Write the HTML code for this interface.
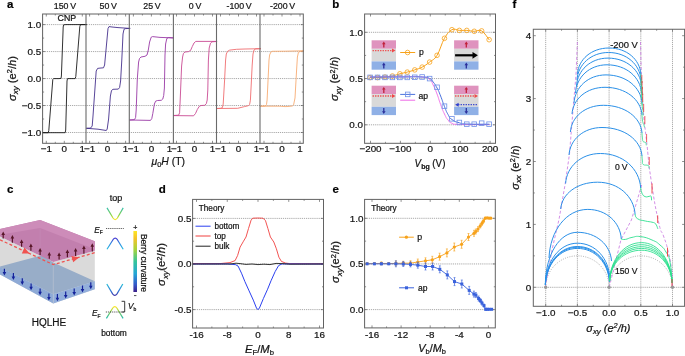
<!DOCTYPE html>
<html><head><meta charset="utf-8"><style>
html,body{margin:0;padding:0;background:#fff;}
body{width:685px;height:356px;overflow:hidden;}
svg{display:block;font-family:"Liberation Sans", sans-serif;filter:blur(0.3px);}
text{stroke:#141414;stroke-width:0.22px;}
</style></head><body>
<svg width="685" height="356" viewBox="0 0 685 356">
<rect width="685" height="356" fill="#fff"/>
<text x="6.90" y="7.70" font-size="11.5" text-anchor="start" font-weight="bold" fill="#000" >a</text>
<text x="332.30" y="7.70" font-size="11.5" text-anchor="start" font-weight="bold" fill="#000" >b</text>
<text x="6.90" y="193.00" font-size="11.5" text-anchor="start" font-weight="bold" fill="#000" >c</text>
<text x="158.80" y="192.70" font-size="11.5" text-anchor="start" font-weight="bold" fill="#000" >d</text>
<text x="332.60" y="192.70" font-size="11.5" text-anchor="start" font-weight="bold" fill="#000" >e</text>
<text x="512.60" y="7.70" font-size="11.5" text-anchor="start" font-weight="bold" fill="#000" >f</text>
<line x1="42.60" y1="24.60" x2="303.30" y2="24.60" stroke="#8e8e8e" stroke-width="0.75" stroke-dasharray="1.2 0.9"/>
<line x1="42.60" y1="51.57" x2="303.30" y2="51.57" stroke="#8e8e8e" stroke-width="0.75" stroke-dasharray="1.2 0.9"/>
<line x1="42.60" y1="78.55" x2="303.30" y2="78.55" stroke="#8e8e8e" stroke-width="0.75" stroke-dasharray="1.2 0.9"/>
<line x1="42.60" y1="105.53" x2="303.30" y2="105.53" stroke="#8e8e8e" stroke-width="0.75" stroke-dasharray="1.2 0.9"/>
<line x1="42.60" y1="132.50" x2="303.30" y2="132.50" stroke="#8e8e8e" stroke-width="0.75" stroke-dasharray="1.2 0.9"/>
<line x1="42.60" y1="24.60" x2="45.10" y2="24.60" stroke="#626262" stroke-width="0.7" />
<line x1="303.30" y1="24.60" x2="300.80" y2="24.60" stroke="#626262" stroke-width="0.7" />
<line x1="42.60" y1="38.09" x2="44.10" y2="38.09" stroke="#626262" stroke-width="0.7" />
<line x1="303.30" y1="38.09" x2="301.80" y2="38.09" stroke="#626262" stroke-width="0.7" />
<line x1="42.60" y1="51.57" x2="45.10" y2="51.57" stroke="#626262" stroke-width="0.7" />
<line x1="303.30" y1="51.57" x2="300.80" y2="51.57" stroke="#626262" stroke-width="0.7" />
<line x1="42.60" y1="65.06" x2="44.10" y2="65.06" stroke="#626262" stroke-width="0.7" />
<line x1="303.30" y1="65.06" x2="301.80" y2="65.06" stroke="#626262" stroke-width="0.7" />
<line x1="42.60" y1="78.55" x2="45.10" y2="78.55" stroke="#626262" stroke-width="0.7" />
<line x1="303.30" y1="78.55" x2="300.80" y2="78.55" stroke="#626262" stroke-width="0.7" />
<line x1="42.60" y1="92.04" x2="44.10" y2="92.04" stroke="#626262" stroke-width="0.7" />
<line x1="303.30" y1="92.04" x2="301.80" y2="92.04" stroke="#626262" stroke-width="0.7" />
<line x1="42.60" y1="105.53" x2="45.10" y2="105.53" stroke="#626262" stroke-width="0.7" />
<line x1="303.30" y1="105.53" x2="300.80" y2="105.53" stroke="#626262" stroke-width="0.7" />
<line x1="42.60" y1="119.01" x2="44.10" y2="119.01" stroke="#626262" stroke-width="0.7" />
<line x1="303.30" y1="119.01" x2="301.80" y2="119.01" stroke="#626262" stroke-width="0.7" />
<line x1="42.60" y1="132.50" x2="45.10" y2="132.50" stroke="#626262" stroke-width="0.7" />
<line x1="303.30" y1="132.50" x2="300.80" y2="132.50" stroke="#626262" stroke-width="0.7" />
<line x1="46.30" y1="143.30" x2="46.30" y2="140.80" stroke="#626262" stroke-width="0.7" />
<line x1="46.30" y1="14.00" x2="46.30" y2="16.50" stroke="#626262" stroke-width="0.7" />
<line x1="55.30" y1="143.30" x2="55.30" y2="141.80" stroke="#626262" stroke-width="0.7" />
<line x1="55.30" y1="14.00" x2="55.30" y2="15.50" stroke="#626262" stroke-width="0.7" />
<line x1="64.30" y1="143.30" x2="64.30" y2="140.80" stroke="#626262" stroke-width="0.7" />
<line x1="64.30" y1="14.00" x2="64.30" y2="16.50" stroke="#626262" stroke-width="0.7" />
<line x1="73.30" y1="143.30" x2="73.30" y2="141.80" stroke="#626262" stroke-width="0.7" />
<line x1="73.30" y1="14.00" x2="73.30" y2="15.50" stroke="#626262" stroke-width="0.7" />
<line x1="82.30" y1="143.30" x2="82.30" y2="140.80" stroke="#626262" stroke-width="0.7" />
<line x1="82.30" y1="14.00" x2="82.30" y2="16.50" stroke="#626262" stroke-width="0.7" />
<line x1="89.60" y1="143.30" x2="89.60" y2="140.80" stroke="#626262" stroke-width="0.7" />
<line x1="89.60" y1="14.00" x2="89.60" y2="16.50" stroke="#626262" stroke-width="0.7" />
<line x1="98.60" y1="143.30" x2="98.60" y2="141.80" stroke="#626262" stroke-width="0.7" />
<line x1="98.60" y1="14.00" x2="98.60" y2="15.50" stroke="#626262" stroke-width="0.7" />
<line x1="107.60" y1="143.30" x2="107.60" y2="140.80" stroke="#626262" stroke-width="0.7" />
<line x1="107.60" y1="14.00" x2="107.60" y2="16.50" stroke="#626262" stroke-width="0.7" />
<line x1="116.60" y1="143.30" x2="116.60" y2="141.80" stroke="#626262" stroke-width="0.7" />
<line x1="116.60" y1="14.00" x2="116.60" y2="15.50" stroke="#626262" stroke-width="0.7" />
<line x1="125.60" y1="143.30" x2="125.60" y2="140.80" stroke="#626262" stroke-width="0.7" />
<line x1="125.60" y1="14.00" x2="125.60" y2="16.50" stroke="#626262" stroke-width="0.7" />
<line x1="133.40" y1="143.30" x2="133.40" y2="140.80" stroke="#626262" stroke-width="0.7" />
<line x1="133.40" y1="14.00" x2="133.40" y2="16.50" stroke="#626262" stroke-width="0.7" />
<line x1="142.40" y1="143.30" x2="142.40" y2="141.80" stroke="#626262" stroke-width="0.7" />
<line x1="142.40" y1="14.00" x2="142.40" y2="15.50" stroke="#626262" stroke-width="0.7" />
<line x1="151.40" y1="143.30" x2="151.40" y2="140.80" stroke="#626262" stroke-width="0.7" />
<line x1="151.40" y1="14.00" x2="151.40" y2="16.50" stroke="#626262" stroke-width="0.7" />
<line x1="160.40" y1="143.30" x2="160.40" y2="141.80" stroke="#626262" stroke-width="0.7" />
<line x1="160.40" y1="14.00" x2="160.40" y2="15.50" stroke="#626262" stroke-width="0.7" />
<line x1="169.40" y1="143.30" x2="169.40" y2="140.80" stroke="#626262" stroke-width="0.7" />
<line x1="169.40" y1="14.00" x2="169.40" y2="16.50" stroke="#626262" stroke-width="0.7" />
<line x1="176.50" y1="143.30" x2="176.50" y2="140.80" stroke="#626262" stroke-width="0.7" />
<line x1="176.50" y1="14.00" x2="176.50" y2="16.50" stroke="#626262" stroke-width="0.7" />
<line x1="185.50" y1="143.30" x2="185.50" y2="141.80" stroke="#626262" stroke-width="0.7" />
<line x1="185.50" y1="14.00" x2="185.50" y2="15.50" stroke="#626262" stroke-width="0.7" />
<line x1="194.50" y1="143.30" x2="194.50" y2="140.80" stroke="#626262" stroke-width="0.7" />
<line x1="194.50" y1="14.00" x2="194.50" y2="16.50" stroke="#626262" stroke-width="0.7" />
<line x1="203.50" y1="143.30" x2="203.50" y2="141.80" stroke="#626262" stroke-width="0.7" />
<line x1="203.50" y1="14.00" x2="203.50" y2="15.50" stroke="#626262" stroke-width="0.7" />
<line x1="212.50" y1="143.30" x2="212.50" y2="140.80" stroke="#626262" stroke-width="0.7" />
<line x1="212.50" y1="14.00" x2="212.50" y2="16.50" stroke="#626262" stroke-width="0.7" />
<line x1="220.50" y1="143.30" x2="220.50" y2="140.80" stroke="#626262" stroke-width="0.7" />
<line x1="220.50" y1="14.00" x2="220.50" y2="16.50" stroke="#626262" stroke-width="0.7" />
<line x1="229.50" y1="143.30" x2="229.50" y2="141.80" stroke="#626262" stroke-width="0.7" />
<line x1="229.50" y1="14.00" x2="229.50" y2="15.50" stroke="#626262" stroke-width="0.7" />
<line x1="238.50" y1="143.30" x2="238.50" y2="140.80" stroke="#626262" stroke-width="0.7" />
<line x1="238.50" y1="14.00" x2="238.50" y2="16.50" stroke="#626262" stroke-width="0.7" />
<line x1="247.50" y1="143.30" x2="247.50" y2="141.80" stroke="#626262" stroke-width="0.7" />
<line x1="247.50" y1="14.00" x2="247.50" y2="15.50" stroke="#626262" stroke-width="0.7" />
<line x1="256.50" y1="143.30" x2="256.50" y2="140.80" stroke="#626262" stroke-width="0.7" />
<line x1="256.50" y1="14.00" x2="256.50" y2="16.50" stroke="#626262" stroke-width="0.7" />
<line x1="264.00" y1="143.30" x2="264.00" y2="140.80" stroke="#626262" stroke-width="0.7" />
<line x1="264.00" y1="14.00" x2="264.00" y2="16.50" stroke="#626262" stroke-width="0.7" />
<line x1="273.00" y1="143.30" x2="273.00" y2="141.80" stroke="#626262" stroke-width="0.7" />
<line x1="273.00" y1="14.00" x2="273.00" y2="15.50" stroke="#626262" stroke-width="0.7" />
<line x1="282.00" y1="143.30" x2="282.00" y2="140.80" stroke="#626262" stroke-width="0.7" />
<line x1="282.00" y1="14.00" x2="282.00" y2="16.50" stroke="#626262" stroke-width="0.7" />
<line x1="291.00" y1="143.30" x2="291.00" y2="141.80" stroke="#626262" stroke-width="0.7" />
<line x1="291.00" y1="14.00" x2="291.00" y2="15.50" stroke="#626262" stroke-width="0.7" />
<line x1="300.00" y1="143.30" x2="300.00" y2="140.80" stroke="#626262" stroke-width="0.7" />
<line x1="300.00" y1="14.00" x2="300.00" y2="16.50" stroke="#626262" stroke-width="0.7" />
<text transform="translate(41.20,27.90) scale(1.07,1)" x="0" y="0" font-size="9.2" text-anchor="end" fill="#141414">1.0</text>
<text transform="translate(41.20,54.87) scale(1.07,1)" x="0" y="0" font-size="9.2" text-anchor="end" fill="#141414">0.5</text>
<text transform="translate(41.20,81.85) scale(1.07,1)" x="0" y="0" font-size="9.2" text-anchor="end" fill="#141414">0.0</text>
<text transform="translate(41.20,108.83) scale(1.07,1)" x="0" y="0" font-size="9.2" text-anchor="end" fill="#141414">−0.5</text>
<text transform="translate(41.20,135.80) scale(1.07,1)" x="0" y="0" font-size="9.2" text-anchor="end" fill="#141414">−1.0</text>
<text x="64.90" y="8.80" font-size="8.8" text-anchor="middle" font-weight="normal" fill="#141414" >150 V</text>
<text transform="translate(46.30,152.30) scale(1.07,1)" x="0" y="0" font-size="9.2" text-anchor="middle" fill="#141414">−1</text>
<text transform="translate(64.30,152.30) scale(1.07,1)" x="0" y="0" font-size="9.2" text-anchor="middle" fill="#141414">0</text>
<text transform="translate(82.30,152.30) scale(1.07,1)" x="0" y="0" font-size="9.2" text-anchor="middle" fill="#141414">1</text>
<text x="108.20" y="8.80" font-size="8.8" text-anchor="middle" font-weight="normal" fill="#141414" >50 V</text>
<text transform="translate(89.60,152.30) scale(1.07,1)" x="0" y="0" font-size="9.2" text-anchor="middle" fill="#141414">−1</text>
<text transform="translate(107.60,152.30) scale(1.07,1)" x="0" y="0" font-size="9.2" text-anchor="middle" fill="#141414">0</text>
<text transform="translate(125.60,152.30) scale(1.07,1)" x="0" y="0" font-size="9.2" text-anchor="middle" fill="#141414">1</text>
<text x="152.00" y="8.80" font-size="8.8" text-anchor="middle" font-weight="normal" fill="#141414" >25 V</text>
<text transform="translate(133.40,152.30) scale(1.07,1)" x="0" y="0" font-size="9.2" text-anchor="middle" fill="#141414">−1</text>
<text transform="translate(151.40,152.30) scale(1.07,1)" x="0" y="0" font-size="9.2" text-anchor="middle" fill="#141414">0</text>
<text transform="translate(169.40,152.30) scale(1.07,1)" x="0" y="0" font-size="9.2" text-anchor="middle" fill="#141414">1</text>
<text x="195.10" y="8.80" font-size="8.8" text-anchor="middle" font-weight="normal" fill="#141414" >0 V</text>
<text transform="translate(176.50,152.30) scale(1.07,1)" x="0" y="0" font-size="9.2" text-anchor="middle" fill="#141414">−1</text>
<text transform="translate(194.50,152.30) scale(1.07,1)" x="0" y="0" font-size="9.2" text-anchor="middle" fill="#141414">0</text>
<text transform="translate(212.50,152.30) scale(1.07,1)" x="0" y="0" font-size="9.2" text-anchor="middle" fill="#141414">1</text>
<text x="239.10" y="8.80" font-size="8.8" text-anchor="middle" font-weight="normal" fill="#141414" >-100 V</text>
<text transform="translate(220.50,152.30) scale(1.07,1)" x="0" y="0" font-size="9.2" text-anchor="middle" fill="#141414">−1</text>
<text transform="translate(238.50,152.30) scale(1.07,1)" x="0" y="0" font-size="9.2" text-anchor="middle" fill="#141414">0</text>
<text transform="translate(256.50,152.30) scale(1.07,1)" x="0" y="0" font-size="9.2" text-anchor="middle" fill="#141414">1</text>
<text x="282.60" y="8.80" font-size="8.8" text-anchor="middle" font-weight="normal" fill="#141414" >-200 V</text>
<text transform="translate(264.00,152.30) scale(1.07,1)" x="0" y="0" font-size="9.2" text-anchor="middle" fill="#141414">−1</text>
<text transform="translate(282.00,152.30) scale(1.07,1)" x="0" y="0" font-size="9.2" text-anchor="middle" fill="#141414">0</text>
<text transform="translate(300.00,152.30) scale(1.07,1)" x="0" y="0" font-size="9.2" text-anchor="middle" fill="#141414">1</text>
<text x="66.90" y="20.90" font-size="8.8" text-anchor="middle" font-weight="normal" fill="#141414" >CNP</text>
<polyline points="86.60,24.60 66.00,24.60 63.60,24.80 63.20,27.00 61.40,76.00 61.00,78.40 59.00,78.60 53.60,78.60 52.80,79.50 48.80,130.50 48.20,132.70 42.40,132.70" fill="none" stroke="#1a1a1a" stroke-width="0.9" stroke-linejoin="round" stroke-linecap="round" />
<polyline points="42.40,132.70 65.20,132.70 65.70,130.00 67.00,81.00 67.50,78.60 70.00,78.60 75.20,78.60 75.80,76.50 79.80,26.50 80.50,24.60 86.60,24.60" fill="none" stroke="#1a1a1a" stroke-width="0.9" stroke-linejoin="round" stroke-linecap="round" />
<polyline points="129.80,28.40 118.00,27.60 112.00,27.00 109.00,26.60 108.00,28.50 104.60,65.00 103.50,67.80 100.00,68.10 97.60,68.40 96.20,71.00 93.00,116.00 92.20,126.00 90.50,128.10 86.60,128.30" fill="none" stroke="#45308c" stroke-width="0.9" stroke-linejoin="round" stroke-linecap="round" />
<polyline points="86.60,128.30 98.00,129.20 106.30,130.50 107.20,129.00 108.60,119.00 110.40,96.00 111.50,90.50 113.00,89.30 118.30,89.10 119.60,87.50 120.60,81.00 121.80,60.00 123.00,34.00 124.00,29.30 125.50,28.60 129.80,28.40" fill="none" stroke="#45308c" stroke-width="0.9" stroke-linejoin="round" stroke-linecap="round" />
<polyline points="173.50,37.90 160.00,37.40 152.50,36.60 151.20,37.20 149.60,42.00 148.30,50.00 147.00,55.00 145.00,56.30 141.00,57.00 139.50,58.50 138.60,62.00 137.30,79.00 136.20,110.00 135.60,117.50 134.50,119.60 129.80,120.00" fill="none" stroke="#9a3aa6" stroke-width="0.9" stroke-linejoin="round" stroke-linecap="round" />
<polyline points="129.80,120.00 150.50,120.40 151.80,118.50 152.80,113.50 154.40,104.00 155.60,101.20 157.50,100.50 161.30,100.30 162.80,99.00 163.70,95.50 164.40,88.00 165.00,55.00 165.60,44.00 166.80,38.50 168.50,37.60 173.50,37.90" fill="none" stroke="#9a3aa6" stroke-width="0.9" stroke-linejoin="round" stroke-linecap="round" />
<polyline points="216.70,41.40 200.00,41.40 195.80,41.40 194.00,43.00 192.30,46.50 190.60,50.40 188.50,51.60 185.00,52.00 183.40,53.50 182.60,57.00 181.60,66.00 180.20,100.00 179.60,112.80 178.60,115.20 173.50,115.50" fill="none" stroke="#c94b93" stroke-width="0.9" stroke-linejoin="round" stroke-linecap="round" />
<polyline points="173.50,115.60 193.60,115.80 195.50,113.50 197.30,109.50 199.30,106.30 201.00,105.50 204.80,105.30 206.40,103.50 207.20,100.00 207.80,90.00 208.40,60.00 209.20,48.00 210.50,43.20 212.00,41.80 216.70,41.50" fill="none" stroke="#c94b93" stroke-width="0.9" stroke-linejoin="round" stroke-linecap="round" />
<polyline points="260.60,48.70 245.00,49.00 236.60,49.30 229.70,50.10 227.60,51.30 226.30,54.00 225.60,60.00 224.60,80.00 223.20,104.00 222.40,107.60 220.50,108.30 216.70,108.50" fill="none" stroke="#ef6d6f" stroke-width="0.9" stroke-linejoin="round" stroke-linecap="round" />
<polyline points="216.70,108.50 237.70,108.30 244.50,106.60 248.30,105.70 249.60,104.50 250.40,100.20 251.20,85.00 252.20,65.00 253.00,54.00 254.00,50.00 255.80,48.80 260.60,48.70" fill="none" stroke="#ef6d6f" stroke-width="0.9" stroke-linejoin="round" stroke-linecap="round" />
<polyline points="303.60,50.80 285.00,51.20 272.50,51.30 271.00,51.80 269.60,55.00 269.00,60.00 267.10,100.00 266.50,104.50 265.20,106.00 260.60,106.20" fill="none" stroke="#f7ac73" stroke-width="0.9" stroke-linejoin="round" stroke-linecap="round" />
<polyline points="260.60,106.20 280.00,106.20 285.00,106.60 288.00,106.50 292.30,106.00 293.60,104.80 295.00,98.00 296.60,70.00 297.40,57.00 298.40,52.50 300.00,51.40 303.60,51.00" fill="none" stroke="#f7ac73" stroke-width="0.9" stroke-linejoin="round" stroke-linecap="round" />
<rect x="42.60" y="14.00" width="260.70" height="129.30" fill="none" stroke="#626262" stroke-width="1.0" />
<line x1="86.00" y1="14.00" x2="86.00" y2="143.30" stroke="#6a6a6a" stroke-width="1.1" />
<line x1="129.30" y1="14.00" x2="129.30" y2="143.30" stroke="#6a6a6a" stroke-width="1.1" />
<line x1="173.40" y1="14.00" x2="173.40" y2="143.30" stroke="#6a6a6a" stroke-width="1.1" />
<line x1="216.50" y1="14.00" x2="216.50" y2="143.30" stroke="#6a6a6a" stroke-width="1.1" />
<line x1="260.00" y1="14.00" x2="260.00" y2="143.30" stroke="#6a6a6a" stroke-width="1.1" />
<text transform="translate(15.70,78.50) rotate(-90)" x="0" y="0" font-size="10.5" text-anchor="middle" fill="#141414" textLength="45.0" lengthAdjust="spacingAndGlyphs"><tspan font-style="italic">σ</tspan><tspan font-size="7.5" dy="2.4" font-style="italic">xy</tspan><tspan dy="-2.4"> (e</tspan><tspan font-size="7" dy="-3.6">2</tspan><tspan dy="3.6">/</tspan><tspan font-style="italic">h</tspan>)</text>
<text x="151.50" y="165.00" font-size="10.5" text-anchor="start" fill="#141414" textLength="33.5" lengthAdjust="spacingAndGlyphs"><tspan font-style="italic">μ</tspan><tspan font-size="7.5" dy="1.8">0</tspan><tspan dy="-1.8" font-style="italic">H</tspan> (T)</text>
<line x1="364.60" y1="32.30" x2="495.50" y2="32.30" stroke="#8e8e8e" stroke-width="0.75" stroke-dasharray="1.2 0.9"/>
<line x1="364.60" y1="78.55" x2="495.50" y2="78.55" stroke="#8e8e8e" stroke-width="0.75" stroke-dasharray="1.2 0.9"/>
<line x1="364.60" y1="124.80" x2="495.50" y2="124.80" stroke="#8e8e8e" stroke-width="0.75" stroke-dasharray="1.2 0.9"/>
<line x1="364.60" y1="32.30" x2="367.10" y2="32.30" stroke="#626262" stroke-width="0.7" />
<line x1="495.50" y1="32.30" x2="493.00" y2="32.30" stroke="#626262" stroke-width="0.7" />
<line x1="364.60" y1="55.42" x2="366.10" y2="55.42" stroke="#626262" stroke-width="0.7" />
<line x1="495.50" y1="55.42" x2="494.00" y2="55.42" stroke="#626262" stroke-width="0.7" />
<line x1="364.60" y1="78.55" x2="367.10" y2="78.55" stroke="#626262" stroke-width="0.7" />
<line x1="495.50" y1="78.55" x2="493.00" y2="78.55" stroke="#626262" stroke-width="0.7" />
<line x1="364.60" y1="101.67" x2="366.10" y2="101.67" stroke="#626262" stroke-width="0.7" />
<line x1="495.50" y1="101.67" x2="494.00" y2="101.67" stroke="#626262" stroke-width="0.7" />
<line x1="364.60" y1="124.80" x2="367.10" y2="124.80" stroke="#626262" stroke-width="0.7" />
<line x1="495.50" y1="124.80" x2="493.00" y2="124.80" stroke="#626262" stroke-width="0.7" />
<line x1="370.50" y1="143.30" x2="370.50" y2="140.80" stroke="#626262" stroke-width="0.7" />
<line x1="370.50" y1="14.00" x2="370.50" y2="16.50" stroke="#626262" stroke-width="0.7" />
<line x1="385.45" y1="143.30" x2="385.45" y2="141.80" stroke="#626262" stroke-width="0.7" />
<line x1="385.45" y1="14.00" x2="385.45" y2="15.50" stroke="#626262" stroke-width="0.7" />
<line x1="400.40" y1="143.30" x2="400.40" y2="140.80" stroke="#626262" stroke-width="0.7" />
<line x1="400.40" y1="14.00" x2="400.40" y2="16.50" stroke="#626262" stroke-width="0.7" />
<line x1="415.35" y1="143.30" x2="415.35" y2="141.80" stroke="#626262" stroke-width="0.7" />
<line x1="415.35" y1="14.00" x2="415.35" y2="15.50" stroke="#626262" stroke-width="0.7" />
<line x1="430.30" y1="143.30" x2="430.30" y2="140.80" stroke="#626262" stroke-width="0.7" />
<line x1="430.30" y1="14.00" x2="430.30" y2="16.50" stroke="#626262" stroke-width="0.7" />
<line x1="445.25" y1="143.30" x2="445.25" y2="141.80" stroke="#626262" stroke-width="0.7" />
<line x1="445.25" y1="14.00" x2="445.25" y2="15.50" stroke="#626262" stroke-width="0.7" />
<line x1="460.20" y1="143.30" x2="460.20" y2="140.80" stroke="#626262" stroke-width="0.7" />
<line x1="460.20" y1="14.00" x2="460.20" y2="16.50" stroke="#626262" stroke-width="0.7" />
<line x1="475.15" y1="143.30" x2="475.15" y2="141.80" stroke="#626262" stroke-width="0.7" />
<line x1="475.15" y1="14.00" x2="475.15" y2="15.50" stroke="#626262" stroke-width="0.7" />
<line x1="490.10" y1="143.30" x2="490.10" y2="140.80" stroke="#626262" stroke-width="0.7" />
<line x1="490.10" y1="14.00" x2="490.10" y2="16.50" stroke="#626262" stroke-width="0.7" />
<text transform="translate(363.00,35.60) scale(1.07,1)" x="0" y="0" font-size="9.2" text-anchor="end" fill="#141414">1.0</text>
<text transform="translate(363.00,81.85) scale(1.07,1)" x="0" y="0" font-size="9.2" text-anchor="end" fill="#141414">0.5</text>
<text transform="translate(363.00,128.10) scale(1.07,1)" x="0" y="0" font-size="9.2" text-anchor="end" fill="#141414">0.0</text>
<text transform="translate(370.50,152.30) scale(1.07,1)" x="0" y="0" font-size="9.2" text-anchor="middle" fill="#141414">−200</text>
<text transform="translate(400.40,152.30) scale(1.07,1)" x="0" y="0" font-size="9.2" text-anchor="middle" fill="#141414">−100</text>
<text transform="translate(430.30,152.30) scale(1.07,1)" x="0" y="0" font-size="9.2" text-anchor="middle" fill="#141414">0</text>
<text transform="translate(460.20,152.30) scale(1.07,1)" x="0" y="0" font-size="9.2" text-anchor="middle" fill="#141414">100</text>
<text transform="translate(490.10,152.30) scale(1.07,1)" x="0" y="0" font-size="9.2" text-anchor="middle" fill="#141414">200</text>
<text transform="translate(338.20,78.80) rotate(-90)" x="0" y="0" font-size="10.5" text-anchor="middle" fill="#141414" textLength="44.6" lengthAdjust="spacingAndGlyphs"><tspan font-style="italic">σ</tspan><tspan font-size="7.5" dy="2.4" font-style="italic">xy</tspan><tspan dy="-2.4"> (e</tspan><tspan font-size="7" dy="-3.6">2</tspan><tspan dy="3.6">/</tspan><tspan font-style="italic">h</tspan>)</text>
<text x="414.60" y="167.00" font-size="10.5" text-anchor="start" fill="#141414" textLength="30.8" lengthAdjust="spacingAndGlyphs"><tspan font-style="italic">V</tspan><tspan font-size="7.5" dy="1.8" font-weight="bold">bg</tspan><tspan dy="-1.8"> (V)</tspan></text>
<path d="M370.10,77.60 C371.59,77.60 374.56,77.70 377.54,77.60 C380.51,77.50 382.00,77.42 384.98,77.10 C387.95,76.78 389.44,76.66 392.41,76.00 C395.39,75.34 396.88,74.58 399.85,73.80 C402.83,73.02 404.31,72.88 407.29,72.10 C410.26,71.32 411.75,70.90 414.73,69.90 C417.70,68.90 419.19,68.66 422.16,67.10 C425.14,65.54 426.62,64.46 429.60,62.10 C432.58,59.74 434.06,60.06 437.04,55.30 C440.01,50.54 441.50,43.42 444.48,38.30 C447.45,33.18 448.94,31.28 451.91,29.70 C454.89,28.12 456.38,30.26 459.35,30.40 C462.33,30.54 463.81,30.22 466.79,30.40 C469.76,30.58 471.25,31.20 474.23,31.30 C477.20,31.40 478.69,29.22 481.66,30.90 C484.64,32.58 487.61,37.94 489.10,39.70" fill="none" stroke="#f7a21b" stroke-width="1.0" stroke-linejoin="round" stroke-linecap="round" />
<circle cx="370.10" cy="77.60" r="2.3" fill="none" stroke="#f7a21b" stroke-width="0.8"/>
<circle cx="377.54" cy="77.60" r="2.3" fill="none" stroke="#f7a21b" stroke-width="0.8"/>
<circle cx="384.98" cy="77.10" r="2.3" fill="none" stroke="#f7a21b" stroke-width="0.8"/>
<circle cx="392.41" cy="76.00" r="2.3" fill="none" stroke="#f7a21b" stroke-width="0.8"/>
<circle cx="399.85" cy="73.80" r="2.3" fill="none" stroke="#f7a21b" stroke-width="0.8"/>
<circle cx="407.29" cy="72.10" r="2.3" fill="none" stroke="#f7a21b" stroke-width="0.8"/>
<circle cx="414.73" cy="69.90" r="2.3" fill="none" stroke="#f7a21b" stroke-width="0.8"/>
<circle cx="422.16" cy="67.10" r="2.3" fill="none" stroke="#f7a21b" stroke-width="0.8"/>
<circle cx="429.60" cy="62.10" r="2.3" fill="none" stroke="#f7a21b" stroke-width="0.8"/>
<circle cx="437.04" cy="55.30" r="2.3" fill="none" stroke="#f7a21b" stroke-width="0.8"/>
<circle cx="444.48" cy="38.30" r="2.3" fill="none" stroke="#f7a21b" stroke-width="0.8"/>
<circle cx="451.91" cy="29.70" r="2.3" fill="none" stroke="#f7a21b" stroke-width="0.8"/>
<circle cx="459.35" cy="30.40" r="2.3" fill="none" stroke="#f7a21b" stroke-width="0.8"/>
<circle cx="466.79" cy="30.40" r="2.3" fill="none" stroke="#f7a21b" stroke-width="0.8"/>
<circle cx="474.23" cy="31.30" r="2.3" fill="none" stroke="#f7a21b" stroke-width="0.8"/>
<circle cx="481.66" cy="30.90" r="2.3" fill="none" stroke="#f7a21b" stroke-width="0.8"/>
<circle cx="489.10" cy="39.70" r="2.3" fill="none" stroke="#f7a21b" stroke-width="0.8"/>
<path d="M370.10,77.00 C379.03,76.94 384.23,76.80 399.85,76.80 C415.47,76.80 413.24,76.19 422.16,77.00 C431.09,77.81 426.30,77.10 429.60,79.50 C432.90,81.90 430.94,80.65 433.17,85.00 C435.40,89.35 434.81,88.15 437.04,94.00 C439.27,99.85 438.38,98.50 440.61,104.50 C442.84,110.50 442.24,109.35 444.48,114.00 C446.71,118.65 445.81,117.24 448.05,120.00 C450.28,122.76 448.52,121.88 451.91,123.20 C455.30,124.52 448.19,123.98 459.35,124.40 C470.51,124.82 480.18,124.54 489.10,124.60" fill="none" stroke="#ee6be6" stroke-width="0.9" stroke-linejoin="round" stroke-linecap="round" />
<path d="M370.10,77.00 C379.03,77.00 384.23,77.00 399.85,77.00 C415.47,77.00 413.24,76.55 422.16,77.00 C431.09,77.45 426.30,77.00 429.60,78.50 C432.90,80.00 430.94,79.15 433.17,82.00 C435.40,84.85 434.81,83.80 437.04,88.00 C439.27,92.20 438.38,90.45 440.61,96.00 C442.84,101.55 442.24,100.95 444.48,106.50 C446.71,112.05 445.81,110.60 448.05,114.50 C450.28,118.40 448.52,117.01 451.91,119.50 C455.30,121.99 454.89,121.45 459.35,122.80 C463.81,124.15 457.86,123.58 466.79,124.00 C475.71,124.42 482.41,124.14 489.10,124.20" fill="none" stroke="#4a72dd" stroke-width="1.0" stroke-linejoin="round" stroke-linecap="round" />
<rect x="367.80" y="75.10" width="4.6" height="4.6" fill="none" stroke="#6f8fe8" stroke-width="0.8"/>
<rect x="375.24" y="75.10" width="4.6" height="4.6" fill="none" stroke="#6f8fe8" stroke-width="0.8"/>
<rect x="382.68" y="75.10" width="4.6" height="4.6" fill="none" stroke="#6f8fe8" stroke-width="0.8"/>
<rect x="390.11" y="75.10" width="4.6" height="4.6" fill="none" stroke="#6f8fe8" stroke-width="0.8"/>
<rect x="397.55" y="75.10" width="4.6" height="4.6" fill="none" stroke="#6f8fe8" stroke-width="0.8"/>
<rect x="404.99" y="75.10" width="4.6" height="4.6" fill="none" stroke="#6f8fe8" stroke-width="0.8"/>
<rect x="412.43" y="75.00" width="4.6" height="4.6" fill="none" stroke="#6f8fe8" stroke-width="0.8"/>
<rect x="419.86" y="74.70" width="4.6" height="4.6" fill="none" stroke="#6f8fe8" stroke-width="0.8"/>
<rect x="427.30" y="76.30" width="4.6" height="4.6" fill="none" stroke="#6f8fe8" stroke-width="0.8"/>
<rect x="434.74" y="85.00" width="4.6" height="4.6" fill="none" stroke="#6f8fe8" stroke-width="0.8"/>
<rect x="442.18" y="103.90" width="4.6" height="4.6" fill="none" stroke="#6f8fe8" stroke-width="0.8"/>
<rect x="449.61" y="116.50" width="4.6" height="4.6" fill="none" stroke="#6f8fe8" stroke-width="0.8"/>
<rect x="457.05" y="120.20" width="4.6" height="4.6" fill="none" stroke="#6f8fe8" stroke-width="0.8"/>
<rect x="464.49" y="121.90" width="4.6" height="4.6" fill="none" stroke="#6f8fe8" stroke-width="0.8"/>
<rect x="471.93" y="121.90" width="4.6" height="4.6" fill="none" stroke="#6f8fe8" stroke-width="0.8"/>
<rect x="479.36" y="120.90" width="4.6" height="4.6" fill="none" stroke="#6f8fe8" stroke-width="0.8"/>
<rect x="486.80" y="121.90" width="4.6" height="4.6" fill="none" stroke="#6f8fe8" stroke-width="0.8"/>
<rect x="371.6" y="40.3" width="24.4" height="8.5" fill="#df93be"/>
<rect x="371.6" y="48.8" width="24.4" height="12.6" fill="#d9d9d9"/>
<rect x="371.6" y="61.4" width="24.4" height="8.3" fill="#8fb0e6"/>
<line x1="383.8" y1="47.599999999999994" x2="383.8" y2="43.66" stroke="#c0203a" stroke-width="1.3"/>
<polygon points="382.0,44.14 385.6,44.14 383.8,41.5" fill="#c0203a"/>
<line x1="383.8" y1="68.5" x2="383.8" y2="64.75999999999999" stroke="#2a2e9a" stroke-width="1.3"/>
<polygon points="382.0,65.24 385.6,65.24 383.8,62.599999999999994" fill="#2a2e9a"/>
<line x1="372.6" y1="50.599999999999994" x2="392.5" y2="50.599999999999994" stroke="#f04848" stroke-width="1.3" stroke-dasharray="1.3 1.2"/>
<polygon points="392.0,48.599999999999994 395.5,50.599999999999994 392.0,52.599999999999994" fill="#f04848"/>
<rect x="454.1" y="40.3" width="24.4" height="8.5" fill="#df93be"/>
<rect x="454.1" y="48.8" width="24.4" height="12.6" fill="#d9d9d9"/>
<rect x="454.1" y="61.4" width="24.4" height="8.3" fill="#8fb0e6"/>
<line x1="466.3" y1="47.599999999999994" x2="466.3" y2="43.66" stroke="#c0203a" stroke-width="1.3"/>
<polygon points="464.5,44.14 468.1,44.14 466.3,41.5" fill="#c0203a"/>
<line x1="466.3" y1="68.5" x2="466.3" y2="64.75999999999999" stroke="#2a2e9a" stroke-width="1.3"/>
<polygon points="464.5,65.24 468.1,65.24 466.3,62.599999999999994" fill="#2a2e9a"/>
<line x1="455.1" y1="55.3" x2="473.5" y2="55.3" stroke="#000" stroke-width="2.2"/>
<polygon points="472.5,51.9 477.9,55.3 472.5,58.699999999999996" fill="#000"/>
<rect x="371.6" y="85.7" width="24.4" height="8.5" fill="#df93be"/>
<rect x="371.6" y="94.2" width="24.4" height="12.6" fill="#d9d9d9"/>
<rect x="371.6" y="106.80000000000001" width="24.4" height="8.3" fill="#8fb0e6"/>
<line x1="383.8" y1="93.0" x2="383.8" y2="89.06" stroke="#c0203a" stroke-width="1.3"/>
<polygon points="382.0,89.54 385.6,89.54 383.8,86.9" fill="#c0203a"/>
<line x1="383.8" y1="108.0" x2="383.8" y2="111.74000000000001" stroke="#2a2e9a" stroke-width="1.3"/>
<polygon points="382.0,111.26 385.6,111.26 383.8,113.9" fill="#2a2e9a"/>
<line x1="372.6" y1="96.0" x2="392.5" y2="96.0" stroke="#f04848" stroke-width="1.3" stroke-dasharray="1.3 1.2"/>
<polygon points="392.0,94.0 395.5,96.0 392.0,98.0" fill="#f04848"/>
<rect x="454.1" y="85.7" width="24.4" height="8.5" fill="#df93be"/>
<rect x="454.1" y="94.2" width="24.4" height="12.6" fill="#d9d9d9"/>
<rect x="454.1" y="106.80000000000001" width="24.4" height="8.3" fill="#8fb0e6"/>
<line x1="466.3" y1="93.0" x2="466.3" y2="89.06" stroke="#c0203a" stroke-width="1.3"/>
<polygon points="464.5,89.54 468.1,89.54 466.3,86.9" fill="#c0203a"/>
<line x1="466.3" y1="108.0" x2="466.3" y2="111.74000000000001" stroke="#2a2e9a" stroke-width="1.3"/>
<polygon points="464.5,111.26 468.1,111.26 466.3,113.9" fill="#2a2e9a"/>
<line x1="455.1" y1="96.0" x2="475.0" y2="96.0" stroke="#f04848" stroke-width="1.3" stroke-dasharray="1.3 1.2"/>
<polygon points="474.5,94.0 478.0,96.0 474.5,98.0" fill="#f04848"/>
<line x1="458.1" y1="104.7" x2="477.5" y2="104.7" stroke="#2f3fd0" stroke-width="1.3" stroke-dasharray="1.3 1.2"/>
<polygon points="458.6,102.7 455.1,104.7 458.6,106.7" fill="#2f3fd0"/>
<line x1="400.20" y1="52.50" x2="415.20" y2="52.50" stroke="#f7a21b" stroke-width="1.0" />
<circle cx="407.6" cy="52.5" r="2.3" fill="none" stroke="#f7a21b" stroke-width="0.8"/>
<text x="418.90" y="54.70" font-size="8.6" text-anchor="start" font-weight="normal" fill="#141414" >p</text>
<line x1="400.20" y1="94.40" x2="415.20" y2="94.40" stroke="#4a72dd" stroke-width="1.0" />
<rect x="405.4" y="92.1" width="4.6" height="4.6" fill="none" stroke="#6f8fe8" stroke-width="0.8"/>
<line x1="400.20" y1="100.20" x2="415.20" y2="100.20" stroke="#ee6be6" stroke-width="1.0" />
<text x="418.60" y="99.00" font-size="8.6" text-anchor="start" font-weight="normal" fill="#141414" >ap</text>
<rect x="364.60" y="14.00" width="130.90" height="129.30" fill="none" stroke="#626262" stroke-width="1.0" />
<polygon points="0.00,236.50 53.30,262.00 94.80,250.80 94.80,289.20 53.30,303.50 0.00,274.60" fill="#dadada" />
<polygon points="0.00,266.50 42.00,255.20 53.30,262.50 94.80,281.30 53.30,294.30 0.00,267.20" fill="#98adc8" />
<polygon points="0.00,267.00 53.30,294.30 53.30,303.50 0.00,274.60" fill="#8eaad6" />
<polygon points="53.30,294.30 94.80,281.30 94.80,289.20 53.30,303.50" fill="#93afdb" />
<polygon points="0.00,228.90 40.10,220.10 94.80,241.30 94.80,250.80 53.30,262.00 0.00,236.50" fill="#c27fae" />
<polygon points="0.00,228.90 40.10,220.10 94.80,241.30 94.80,249.30 40.10,228.10 0.00,234.80" fill="#cd8cb9" />
<line x1="53.30" y1="262.00" x2="53.30" y2="303.50" stroke="#c4c9d4" stroke-width="0.5" />
<line x1="40.10" y1="228.10" x2="40.10" y2="259.00" stroke="#c78fbb" stroke-width="0.4" />
<polyline points="0,239.8 53.3,264.6 94.8,252.7" fill="none" stroke="#f0524f" stroke-width="1.3" stroke-dasharray="3 2.2"/>
<polygon points="29.5,253.5 21.8,253.4 24.5,247.6" fill="#f0524f"/>
<polygon points="79.2,257.2 73.2,262.2 71.4,256.0" fill="#f0524f"/>
<line x1="3.2" y1="238.4" x2="3.2" y2="233.8" stroke="#581628" stroke-width="1.2"/>
<polygon points="1.4000000000000001,235.0 5.0,235.0 3.2,231.5" fill="#581628"/>
<line x1="12.4" y1="242.7" x2="12.4" y2="237.4" stroke="#581628" stroke-width="1.2"/>
<polygon points="10.6,238.6 14.200000000000001,238.6 12.4,235.1" fill="#581628"/>
<line x1="21.6" y1="246.8" x2="21.6" y2="241.8" stroke="#581628" stroke-width="1.2"/>
<polygon points="19.8,243.0 23.400000000000002,243.0 21.6,239.5" fill="#581628"/>
<line x1="30.9" y1="250.8" x2="30.9" y2="245.9" stroke="#581628" stroke-width="1.2"/>
<polygon points="29.099999999999998,247.1 32.699999999999996,247.1 30.9,243.6" fill="#581628"/>
<line x1="40.1" y1="255.1" x2="40.1" y2="250.3" stroke="#581628" stroke-width="1.2"/>
<polygon points="38.300000000000004,251.5 41.9,251.5 40.1,248.0" fill="#581628"/>
<line x1="49.3" y1="258.8" x2="49.3" y2="254.2" stroke="#581628" stroke-width="1.2"/>
<polygon points="47.5,255.39999999999998 51.099999999999994,255.39999999999998 49.3,251.89999999999998" fill="#581628"/>
<line x1="59.1" y1="259.5" x2="59.1" y2="254.7" stroke="#581628" stroke-width="1.2"/>
<polygon points="57.300000000000004,255.89999999999998 60.9,255.89999999999998 59.1,252.39999999999998" fill="#581628"/>
<line x1="67.4" y1="257.3" x2="67.4" y2="251.8" stroke="#581628" stroke-width="1.2"/>
<polygon points="65.60000000000001,253.0 69.2,253.0 67.4,249.5" fill="#581628"/>
<line x1="75.6" y1="255.9" x2="75.6" y2="250.3" stroke="#581628" stroke-width="1.2"/>
<polygon points="73.8,251.5 77.39999999999999,251.5 75.6,248.0" fill="#581628"/>
<line x1="83.9" y1="253.7" x2="83.9" y2="247.7" stroke="#581628" stroke-width="1.2"/>
<polygon points="82.10000000000001,248.89999999999998 85.7,248.89999999999998 83.9,245.39999999999998" fill="#581628"/>
<line x1="92.3" y1="251.5" x2="92.3" y2="245.5" stroke="#581628" stroke-width="1.2"/>
<polygon points="90.5,246.7 94.1,246.7 92.3,243.2" fill="#581628"/>
<line x1="4.4" y1="268.8" x2="4.4" y2="273.3" stroke="#14229a" stroke-width="1.2"/>
<polygon points="2.6000000000000005,272.1 6.2,272.1 4.4,275.6" fill="#14229a"/>
<line x1="13.4" y1="273.1" x2="13.4" y2="277.7" stroke="#14229a" stroke-width="1.2"/>
<polygon points="11.6,276.5 15.200000000000001,276.5 13.4,280.0" fill="#14229a"/>
<line x1="22.3" y1="278.2" x2="22.3" y2="282.8" stroke="#14229a" stroke-width="1.2"/>
<polygon points="20.5,281.6 24.1,281.6 22.3,285.1" fill="#14229a"/>
<line x1="31.1" y1="283.4" x2="31.1" y2="287.9" stroke="#14229a" stroke-width="1.2"/>
<polygon points="29.3,286.7 32.9,286.7 31.1,290.2" fill="#14229a"/>
<line x1="40.1" y1="288.5" x2="40.1" y2="293.0" stroke="#14229a" stroke-width="1.2"/>
<polygon points="38.300000000000004,291.8 41.9,291.8 40.1,295.3" fill="#14229a"/>
<line x1="48.9" y1="293.6" x2="48.9" y2="298.1" stroke="#14229a" stroke-width="1.2"/>
<polygon points="47.1,296.90000000000003 50.699999999999996,296.90000000000003 48.9,300.40000000000003" fill="#14229a"/>
<line x1="57.4" y1="293.9" x2="57.4" y2="298.9" stroke="#14229a" stroke-width="1.2"/>
<polygon points="55.6,297.7 59.199999999999996,297.7 57.4,301.2" fill="#14229a"/>
<line x1="65.7" y1="291.4" x2="65.7" y2="296.2" stroke="#14229a" stroke-width="1.2"/>
<polygon points="63.900000000000006,295.0 67.5,295.0 65.7,298.5" fill="#14229a"/>
<line x1="74.2" y1="288.5" x2="74.2" y2="293.3" stroke="#14229a" stroke-width="1.2"/>
<polygon points="72.4,292.1 76.0,292.1 74.2,295.6" fill="#14229a"/>
<line x1="82.5" y1="285.5" x2="82.5" y2="290.1" stroke="#14229a" stroke-width="1.2"/>
<polygon points="80.7,288.90000000000003 84.3,288.90000000000003 82.5,292.40000000000003" fill="#14229a"/>
<line x1="90.8" y1="282.2" x2="90.8" y2="286.9" stroke="#14229a" stroke-width="1.2"/>
<polygon points="89.0,285.7 92.6,285.7 90.8,289.2" fill="#14229a"/>
<text x="48.90" y="325.60" font-size="10" text-anchor="middle" font-weight="normal" fill="#141414" >HQLHE</text>
<defs>
<linearGradient id="gcup1" x1="0" y1="0" x2="0" y2="1"><stop offset="0" stop-color="#35bfae"/><stop offset="0.6" stop-color="#86d34c"/><stop offset="1" stop-color="#fde725"/></linearGradient>
<linearGradient id="gcap1" x1="0" y1="0" x2="0" y2="1"><stop offset="0" stop-color="#4a3cd2"/><stop offset="0.45" stop-color="#2f86e0"/><stop offset="1" stop-color="#28bfe2"/></linearGradient>
<linearGradient id="gcup2" x1="0" y1="0" x2="0" y2="1"><stop offset="0" stop-color="#28bfd8"/><stop offset="0.6" stop-color="#2f78d8"/><stop offset="1" stop-color="#3b32a8"/></linearGradient>
<linearGradient id="gcap2" x1="0" y1="0" x2="0" y2="1"><stop offset="0" stop-color="#fde725"/><stop offset="0.4" stop-color="#8fd14f"/><stop offset="1" stop-color="#20b8b0"/></linearGradient>
<linearGradient id="gbar" x1="0" y1="0" x2="0" y2="1"><stop offset="0" stop-color="#fde725"/><stop offset="0.12" stop-color="#f6c22a"/><stop offset="0.3" stop-color="#a8d53a"/><stop offset="0.5" stop-color="#35c49a"/><stop offset="0.7" stop-color="#25a6d6"/><stop offset="0.88" stop-color="#3558c8"/><stop offset="1" stop-color="#3b1f8a"/></linearGradient>
</defs>
<path d="M107.0,207.9 L113.0,217.98 Q115.2,221.13 117.4,217.98 L123.2,207.9" fill="none" stroke="url(#gcup1)" stroke-width="1.2" stroke-linejoin="round"/>
<path d="M107.0,249.3 L113.0,239.70 Q115.2,236.70 117.4,239.70 L123.2,249.3" fill="none" stroke="url(#gcap1)" stroke-width="1.2" stroke-linejoin="round"/>
<path d="M106.8,284.0 L112.6,293.92 Q114.8,297.02 117.0,293.92 L122.8,284.0" fill="none" stroke="url(#gcup2)" stroke-width="1.2" stroke-linejoin="round"/>
<path d="M106.4,318.4 L112.6,308.24 Q114.8,305.06 117.0,308.24 L123.1,318.4" fill="none" stroke="url(#gcap2)" stroke-width="1.2" stroke-linejoin="round"/>
<line x1="106.00" y1="228.50" x2="123.80" y2="228.50" stroke="#333" stroke-width="0.8" stroke-dasharray="1.2 0.9"/>
<line x1="105.80" y1="312.00" x2="124.70" y2="312.00" stroke="#333" stroke-width="0.8" stroke-dasharray="1.2 0.9"/>
<text x="116.00" y="201.00" font-size="9" text-anchor="middle" font-weight="normal" fill="#141414" >top</text>
<text x="114.00" y="335.90" font-size="8.4" text-anchor="middle" font-weight="normal" fill="#141414" >bottom</text>
<text x="94.20" y="232.60" font-size="8.2" text-anchor="start" font-weight="normal" fill="#141414" ><tspan font-style="italic">E</tspan><tspan font-size="5" dy="1.8">F</tspan></text>
<text x="92.00" y="315.80" font-size="8.2" text-anchor="start" font-weight="normal" fill="#141414" ><tspan font-style="italic">E</tspan><tspan font-size="5" dy="1.8">F</tspan></text>
<polyline points="121.6,301.3 124.7,301.3 124.7,312 121.6,312" fill="none" stroke="#222" stroke-width="0.9"/>
<text x="128.00" y="308.70" font-size="8.2" text-anchor="start" font-weight="normal" fill="#141414" ><tspan font-style="italic">V</tspan><tspan font-size="5" dy="1.8">b</tspan></text>
<rect x="133.4" y="231.0" width="3.6" height="61.0" fill="url(#gbar)"/>
<text x="135.40" y="230.30" font-size="7" text-anchor="middle" font-weight="normal" fill="#111" >+</text>
<line x1="134.00" y1="295.60" x2="136.40" y2="295.60" stroke="#222" stroke-width="0.8" />
<text x="140.60" y="263.00" font-size="8.5" text-anchor="middle" font-weight="normal" fill="#141414" transform="rotate(90 140.6 263.0)">Berry curvature</text>
<line x1="192.60" y1="218.40" x2="323.50" y2="218.40" stroke="#8e8e8e" stroke-width="0.75" stroke-dasharray="1.2 0.9"/>
<line x1="192.60" y1="264.00" x2="323.50" y2="264.00" stroke="#8e8e8e" stroke-width="0.75" stroke-dasharray="1.2 0.9"/>
<line x1="192.60" y1="309.60" x2="323.50" y2="309.60" stroke="#8e8e8e" stroke-width="0.75" stroke-dasharray="1.2 0.9"/>
<line x1="192.60" y1="218.40" x2="195.10" y2="218.40" stroke="#626262" stroke-width="0.7" />
<line x1="323.50" y1="218.40" x2="321.00" y2="218.40" stroke="#626262" stroke-width="0.7" />
<line x1="192.60" y1="241.20" x2="194.10" y2="241.20" stroke="#626262" stroke-width="0.7" />
<line x1="323.50" y1="241.20" x2="322.00" y2="241.20" stroke="#626262" stroke-width="0.7" />
<line x1="192.60" y1="264.00" x2="195.10" y2="264.00" stroke="#626262" stroke-width="0.7" />
<line x1="323.50" y1="264.00" x2="321.00" y2="264.00" stroke="#626262" stroke-width="0.7" />
<line x1="192.60" y1="286.80" x2="194.10" y2="286.80" stroke="#626262" stroke-width="0.7" />
<line x1="323.50" y1="286.80" x2="322.00" y2="286.80" stroke="#626262" stroke-width="0.7" />
<line x1="192.60" y1="309.60" x2="195.10" y2="309.60" stroke="#626262" stroke-width="0.7" />
<line x1="323.50" y1="309.60" x2="321.00" y2="309.60" stroke="#626262" stroke-width="0.7" />
<line x1="196.50" y1="328.00" x2="196.50" y2="325.50" stroke="#626262" stroke-width="0.7" />
<line x1="196.50" y1="199.40" x2="196.50" y2="201.90" stroke="#626262" stroke-width="0.7" />
<line x1="211.87" y1="328.00" x2="211.87" y2="326.50" stroke="#626262" stroke-width="0.7" />
<line x1="211.87" y1="199.40" x2="211.87" y2="200.90" stroke="#626262" stroke-width="0.7" />
<line x1="227.25" y1="328.00" x2="227.25" y2="325.50" stroke="#626262" stroke-width="0.7" />
<line x1="227.25" y1="199.40" x2="227.25" y2="201.90" stroke="#626262" stroke-width="0.7" />
<line x1="242.62" y1="328.00" x2="242.62" y2="326.50" stroke="#626262" stroke-width="0.7" />
<line x1="242.62" y1="199.40" x2="242.62" y2="200.90" stroke="#626262" stroke-width="0.7" />
<line x1="258.00" y1="328.00" x2="258.00" y2="325.50" stroke="#626262" stroke-width="0.7" />
<line x1="258.00" y1="199.40" x2="258.00" y2="201.90" stroke="#626262" stroke-width="0.7" />
<line x1="273.38" y1="328.00" x2="273.38" y2="326.50" stroke="#626262" stroke-width="0.7" />
<line x1="273.38" y1="199.40" x2="273.38" y2="200.90" stroke="#626262" stroke-width="0.7" />
<line x1="288.75" y1="328.00" x2="288.75" y2="325.50" stroke="#626262" stroke-width="0.7" />
<line x1="288.75" y1="199.40" x2="288.75" y2="201.90" stroke="#626262" stroke-width="0.7" />
<line x1="304.13" y1="328.00" x2="304.13" y2="326.50" stroke="#626262" stroke-width="0.7" />
<line x1="304.13" y1="199.40" x2="304.13" y2="200.90" stroke="#626262" stroke-width="0.7" />
<line x1="319.50" y1="328.00" x2="319.50" y2="325.50" stroke="#626262" stroke-width="0.7" />
<line x1="319.50" y1="199.40" x2="319.50" y2="201.90" stroke="#626262" stroke-width="0.7" />
<text transform="translate(191.40,221.70) scale(1.07,1)" x="0" y="0" font-size="9.2" text-anchor="end" fill="#141414">0.5</text>
<text transform="translate(191.40,267.30) scale(1.07,1)" x="0" y="0" font-size="9.2" text-anchor="end" fill="#141414">0.0</text>
<text transform="translate(191.40,312.90) scale(1.07,1)" x="0" y="0" font-size="9.2" text-anchor="end" fill="#141414">-0.5</text>
<text transform="translate(196.50,337.60) scale(1.07,1)" x="0" y="0" font-size="9.2" text-anchor="middle" fill="#141414">-16</text>
<text transform="translate(227.25,337.60) scale(1.07,1)" x="0" y="0" font-size="9.2" text-anchor="middle" fill="#141414">-8</text>
<text transform="translate(258.00,337.60) scale(1.07,1)" x="0" y="0" font-size="9.2" text-anchor="middle" fill="#141414">0</text>
<text transform="translate(288.75,337.60) scale(1.07,1)" x="0" y="0" font-size="9.2" text-anchor="middle" fill="#141414">8</text>
<text transform="translate(319.50,337.60) scale(1.07,1)" x="0" y="0" font-size="9.2" text-anchor="middle" fill="#141414">16</text>
<text transform="translate(165.30,264.50) rotate(-90)" x="0" y="0" font-size="10.5" text-anchor="middle" fill="#141414" textLength="43.0" lengthAdjust="spacingAndGlyphs"><tspan font-style="italic">σ</tspan><tspan font-size="7.5" dy="2.4" font-style="italic">xy</tspan><tspan dy="-2.4">(e</tspan><tspan font-size="7" dy="-3.6">2</tspan><tspan dy="3.6">/</tspan><tspan font-style="italic">h</tspan>)</text>
<text x="245.00" y="352.50" font-size="11" text-anchor="start" fill="#141414" textLength="28.9" lengthAdjust="spacingAndGlyphs"><tspan font-style="italic">E</tspan><tspan font-size="7.5" dy="2.2">F</tspan><tspan dy="-2.2">/</tspan><tspan font-style="italic">M</tspan><tspan font-size="7.5" dy="2.2">b</tspan></text>
<text x="198.80" y="211.40" font-size="8.2" text-anchor="start" font-weight="normal" fill="#141414" >Theory</text>
<polyline points="192.60,263.60 220.00,263.60 230.00,262.60 235.10,260.60 237.60,255.50 240.10,247.10 243.50,241.20 246.00,237.00 248.50,228.50 251.10,220.10 252.80,218.20 257.80,218.00 262.90,218.20 265.40,220.40 267.90,228.50 270.40,237.00 273.80,242.00 276.40,248.80 278.90,257.20 281.40,261.40 285.60,263.10 289.80,263.60 323.50,263.80" fill="none" stroke="#f0413f" stroke-width="0.9" stroke-linejoin="round" stroke-linecap="round" />
<polyline points="192.60,264.00 228.00,263.90 235.60,264.70 238.10,266.10 241.50,273.20 244.90,281.60 249.10,290.90 253.30,300.10 256.70,308.60 258.00,309.40 259.20,308.60 263.40,298.50 267.60,289.20 271.00,280.80 275.20,271.50 278.60,265.60 281.90,263.90 288.00,263.90 323.50,264.00" fill="none" stroke="#2a3ff0" stroke-width="1.0" stroke-linejoin="round" stroke-linecap="round" />
<polyline points="192.60,264.00 230.00,264.00 236.00,263.20 240.00,263.60 246.00,264.40 252.00,264.00 258.00,264.60 264.00,264.20 270.00,264.60 276.00,263.40 282.00,263.60 290.00,264.20 323.50,264.00" fill="none" stroke="#222" stroke-width="0.9" stroke-linejoin="round" stroke-linecap="round" />
<line x1="195.50" y1="226.20" x2="210.60" y2="226.20" stroke="#2a3ff0" stroke-width="1.0" />
<text x="214.40" y="229.00" font-size="8.2" text-anchor="start" font-weight="normal" fill="#141414" >bottom</text>
<line x1="195.50" y1="236.00" x2="210.60" y2="236.00" stroke="#f0413f" stroke-width="1.0" />
<text x="214.40" y="238.80" font-size="8.2" text-anchor="start" font-weight="normal" fill="#141414" >top</text>
<line x1="195.50" y1="246.20" x2="210.60" y2="246.20" stroke="#222" stroke-width="1.0" />
<text x="214.40" y="249.00" font-size="8.2" text-anchor="start" font-weight="normal" fill="#141414" >bulk</text>
<rect x="192.60" y="199.40" width="130.90" height="128.60" fill="none" stroke="#626262" stroke-width="1.0" />
<line x1="364.60" y1="218.30" x2="495.30" y2="218.30" stroke="#8e8e8e" stroke-width="0.75" stroke-dasharray="1.2 0.9"/>
<line x1="364.60" y1="263.95" x2="495.30" y2="263.95" stroke="#8e8e8e" stroke-width="0.75" stroke-dasharray="1.2 0.9"/>
<line x1="364.60" y1="309.60" x2="495.30" y2="309.60" stroke="#8e8e8e" stroke-width="0.75" stroke-dasharray="1.2 0.9"/>
<line x1="364.60" y1="218.30" x2="367.10" y2="218.30" stroke="#626262" stroke-width="0.7" />
<line x1="495.30" y1="218.30" x2="492.80" y2="218.30" stroke="#626262" stroke-width="0.7" />
<line x1="364.60" y1="241.13" x2="366.10" y2="241.13" stroke="#626262" stroke-width="0.7" />
<line x1="495.30" y1="241.13" x2="493.80" y2="241.13" stroke="#626262" stroke-width="0.7" />
<line x1="364.60" y1="263.95" x2="367.10" y2="263.95" stroke="#626262" stroke-width="0.7" />
<line x1="495.30" y1="263.95" x2="492.80" y2="263.95" stroke="#626262" stroke-width="0.7" />
<line x1="364.60" y1="286.78" x2="366.10" y2="286.78" stroke="#626262" stroke-width="0.7" />
<line x1="495.30" y1="286.78" x2="493.80" y2="286.78" stroke="#626262" stroke-width="0.7" />
<line x1="364.60" y1="309.60" x2="367.10" y2="309.60" stroke="#626262" stroke-width="0.7" />
<line x1="495.30" y1="309.60" x2="492.80" y2="309.60" stroke="#626262" stroke-width="0.7" />
<line x1="372.00" y1="327.90" x2="372.00" y2="325.40" stroke="#626262" stroke-width="0.7" />
<line x1="372.00" y1="199.40" x2="372.00" y2="201.90" stroke="#626262" stroke-width="0.7" />
<line x1="386.55" y1="327.90" x2="386.55" y2="326.40" stroke="#626262" stroke-width="0.7" />
<line x1="386.55" y1="199.40" x2="386.55" y2="200.90" stroke="#626262" stroke-width="0.7" />
<line x1="401.10" y1="327.90" x2="401.10" y2="325.40" stroke="#626262" stroke-width="0.7" />
<line x1="401.10" y1="199.40" x2="401.10" y2="201.90" stroke="#626262" stroke-width="0.7" />
<line x1="415.65" y1="327.90" x2="415.65" y2="326.40" stroke="#626262" stroke-width="0.7" />
<line x1="415.65" y1="199.40" x2="415.65" y2="200.90" stroke="#626262" stroke-width="0.7" />
<line x1="430.20" y1="327.90" x2="430.20" y2="325.40" stroke="#626262" stroke-width="0.7" />
<line x1="430.20" y1="199.40" x2="430.20" y2="201.90" stroke="#626262" stroke-width="0.7" />
<line x1="444.75" y1="327.90" x2="444.75" y2="326.40" stroke="#626262" stroke-width="0.7" />
<line x1="444.75" y1="199.40" x2="444.75" y2="200.90" stroke="#626262" stroke-width="0.7" />
<line x1="459.30" y1="327.90" x2="459.30" y2="325.40" stroke="#626262" stroke-width="0.7" />
<line x1="459.30" y1="199.40" x2="459.30" y2="201.90" stroke="#626262" stroke-width="0.7" />
<line x1="473.85" y1="327.90" x2="473.85" y2="326.40" stroke="#626262" stroke-width="0.7" />
<line x1="473.85" y1="199.40" x2="473.85" y2="200.90" stroke="#626262" stroke-width="0.7" />
<line x1="488.40" y1="327.90" x2="488.40" y2="325.40" stroke="#626262" stroke-width="0.7" />
<line x1="488.40" y1="199.40" x2="488.40" y2="201.90" stroke="#626262" stroke-width="0.7" />
<text transform="translate(363.40,221.60) scale(1.07,1)" x="0" y="0" font-size="9.2" text-anchor="end" fill="#141414">1.0</text>
<text transform="translate(363.40,267.25) scale(1.07,1)" x="0" y="0" font-size="9.2" text-anchor="end" fill="#141414">0.5</text>
<text transform="translate(363.40,312.90) scale(1.07,1)" x="0" y="0" font-size="9.2" text-anchor="end" fill="#141414">0.0</text>
<text transform="translate(372.00,337.60) scale(1.07,1)" x="0" y="0" font-size="9.2" text-anchor="middle" fill="#141414">-16</text>
<text transform="translate(401.10,337.60) scale(1.07,1)" x="0" y="0" font-size="9.2" text-anchor="middle" fill="#141414">-12</text>
<text transform="translate(430.20,337.60) scale(1.07,1)" x="0" y="0" font-size="9.2" text-anchor="middle" fill="#141414">-8</text>
<text transform="translate(459.30,337.60) scale(1.07,1)" x="0" y="0" font-size="9.2" text-anchor="middle" fill="#141414">-4</text>
<text transform="translate(488.40,337.60) scale(1.07,1)" x="0" y="0" font-size="9.2" text-anchor="middle" fill="#141414">0</text>
<text transform="translate(339.30,262.00) rotate(-90)" x="0" y="0" font-size="10.5" text-anchor="middle" fill="#141414" textLength="42.1" lengthAdjust="spacingAndGlyphs"><tspan font-style="italic">σ</tspan><tspan font-size="7.5" dy="2.4" font-style="italic">xy</tspan><tspan dy="-2.4">(e</tspan><tspan font-size="7" dy="-3.6">2</tspan><tspan dy="3.6">/</tspan><tspan font-style="italic">h</tspan>)</text>
<text x="418.20" y="352.20" font-size="11" text-anchor="start" fill="#141414" textLength="27.8" lengthAdjust="spacingAndGlyphs"><tspan font-style="italic">V</tspan><tspan font-size="7.5" dy="2.2">b</tspan><tspan dy="-2.2">/</tspan><tspan font-style="italic">M</tspan><tspan font-size="7.5" dy="2.2">b</tspan></text>
<text x="371.20" y="210.90" font-size="8.2" text-anchor="start" font-weight="normal" fill="#141414" >Theory</text>
<polyline points="367.10,263.60 374.40,263.60 381.40,263.40 388.70,263.60 395.90,263.40 403.30,263.20 410.50,263.20 417.80,262.00 425.50,260.80 432.30,259.80 439.60,256.70 446.90,252.90 454.30,247.00 461.60,244.30 468.50,237.00 474.00,233.30 475.80,231.50 478.00,229.10 480.20,226.00 482.00,223.30 483.50,221.10 485.30,218.20 487.20,217.80 489.00,218.20 490.80,218.20" fill="none" stroke="#f7a21b" stroke-width="0.9" stroke-linejoin="round" stroke-linecap="round" />
<circle cx="367.10" cy="263.60" r="1.6" fill="#f7a21b"/>
<circle cx="374.40" cy="263.60" r="1.6" fill="#f7a21b"/>
<line x1="381.40" y1="261.90" x2="381.40" y2="264.90" stroke="#f7a21b" stroke-width="0.7" />
<line x1="380.40" y1="261.90" x2="382.40" y2="261.90" stroke="#f7a21b" stroke-width="0.6" />
<line x1="380.40" y1="264.90" x2="382.40" y2="264.90" stroke="#f7a21b" stroke-width="0.6" />
<circle cx="381.40" cy="263.40" r="1.6" fill="#f7a21b"/>
<circle cx="388.70" cy="263.60" r="1.6" fill="#f7a21b"/>
<line x1="395.90" y1="260.90" x2="395.90" y2="265.90" stroke="#f7a21b" stroke-width="0.7" />
<line x1="394.90" y1="260.90" x2="396.90" y2="260.90" stroke="#f7a21b" stroke-width="0.6" />
<line x1="394.90" y1="265.90" x2="396.90" y2="265.90" stroke="#f7a21b" stroke-width="0.6" />
<circle cx="395.90" cy="263.40" r="1.6" fill="#f7a21b"/>
<line x1="403.30" y1="261.20" x2="403.30" y2="265.20" stroke="#f7a21b" stroke-width="0.7" />
<line x1="402.30" y1="261.20" x2="404.30" y2="261.20" stroke="#f7a21b" stroke-width="0.6" />
<line x1="402.30" y1="265.20" x2="404.30" y2="265.20" stroke="#f7a21b" stroke-width="0.6" />
<circle cx="403.30" cy="263.20" r="1.6" fill="#f7a21b"/>
<line x1="410.50" y1="260.70" x2="410.50" y2="265.70" stroke="#f7a21b" stroke-width="0.7" />
<line x1="409.50" y1="260.70" x2="411.50" y2="260.70" stroke="#f7a21b" stroke-width="0.6" />
<line x1="409.50" y1="265.70" x2="411.50" y2="265.70" stroke="#f7a21b" stroke-width="0.6" />
<circle cx="410.50" cy="263.20" r="1.6" fill="#f7a21b"/>
<line x1="417.80" y1="259.00" x2="417.80" y2="265.00" stroke="#f7a21b" stroke-width="0.7" />
<line x1="416.80" y1="259.00" x2="418.80" y2="259.00" stroke="#f7a21b" stroke-width="0.6" />
<line x1="416.80" y1="265.00" x2="418.80" y2="265.00" stroke="#f7a21b" stroke-width="0.6" />
<circle cx="417.80" cy="262.00" r="1.6" fill="#f7a21b"/>
<line x1="425.50" y1="257.80" x2="425.50" y2="263.80" stroke="#f7a21b" stroke-width="0.7" />
<line x1="424.50" y1="257.80" x2="426.50" y2="257.80" stroke="#f7a21b" stroke-width="0.6" />
<line x1="424.50" y1="263.80" x2="426.50" y2="263.80" stroke="#f7a21b" stroke-width="0.6" />
<circle cx="425.50" cy="260.80" r="1.6" fill="#f7a21b"/>
<line x1="432.30" y1="256.30" x2="432.30" y2="263.30" stroke="#f7a21b" stroke-width="0.7" />
<line x1="431.30" y1="256.30" x2="433.30" y2="256.30" stroke="#f7a21b" stroke-width="0.6" />
<line x1="431.30" y1="263.30" x2="433.30" y2="263.30" stroke="#f7a21b" stroke-width="0.6" />
<circle cx="432.30" cy="259.80" r="1.6" fill="#f7a21b"/>
<line x1="439.60" y1="253.20" x2="439.60" y2="260.20" stroke="#f7a21b" stroke-width="0.7" />
<line x1="438.60" y1="253.20" x2="440.60" y2="253.20" stroke="#f7a21b" stroke-width="0.6" />
<line x1="438.60" y1="260.20" x2="440.60" y2="260.20" stroke="#f7a21b" stroke-width="0.6" />
<circle cx="439.60" cy="256.70" r="1.6" fill="#f7a21b"/>
<line x1="446.90" y1="248.90" x2="446.90" y2="256.90" stroke="#f7a21b" stroke-width="0.7" />
<line x1="445.90" y1="248.90" x2="447.90" y2="248.90" stroke="#f7a21b" stroke-width="0.6" />
<line x1="445.90" y1="256.90" x2="447.90" y2="256.90" stroke="#f7a21b" stroke-width="0.6" />
<circle cx="446.90" cy="252.90" r="1.6" fill="#f7a21b"/>
<line x1="454.30" y1="243.00" x2="454.30" y2="251.00" stroke="#f7a21b" stroke-width="0.7" />
<line x1="453.30" y1="243.00" x2="455.30" y2="243.00" stroke="#f7a21b" stroke-width="0.6" />
<line x1="453.30" y1="251.00" x2="455.30" y2="251.00" stroke="#f7a21b" stroke-width="0.6" />
<circle cx="454.30" cy="247.00" r="1.6" fill="#f7a21b"/>
<line x1="461.60" y1="240.30" x2="461.60" y2="248.30" stroke="#f7a21b" stroke-width="0.7" />
<line x1="460.60" y1="240.30" x2="462.60" y2="240.30" stroke="#f7a21b" stroke-width="0.6" />
<line x1="460.60" y1="248.30" x2="462.60" y2="248.30" stroke="#f7a21b" stroke-width="0.6" />
<circle cx="461.60" cy="244.30" r="1.6" fill="#f7a21b"/>
<line x1="468.50" y1="233.50" x2="468.50" y2="240.50" stroke="#f7a21b" stroke-width="0.7" />
<line x1="467.50" y1="233.50" x2="469.50" y2="233.50" stroke="#f7a21b" stroke-width="0.6" />
<line x1="467.50" y1="240.50" x2="469.50" y2="240.50" stroke="#f7a21b" stroke-width="0.6" />
<circle cx="468.50" cy="237.00" r="1.6" fill="#f7a21b"/>
<line x1="474.00" y1="230.30" x2="474.00" y2="236.30" stroke="#f7a21b" stroke-width="0.7" />
<line x1="473.00" y1="230.30" x2="475.00" y2="230.30" stroke="#f7a21b" stroke-width="0.6" />
<line x1="473.00" y1="236.30" x2="475.00" y2="236.30" stroke="#f7a21b" stroke-width="0.6" />
<circle cx="474.00" cy="233.30" r="1.6" fill="#f7a21b"/>
<line x1="475.80" y1="229.00" x2="475.80" y2="234.00" stroke="#f7a21b" stroke-width="0.7" />
<line x1="474.80" y1="229.00" x2="476.80" y2="229.00" stroke="#f7a21b" stroke-width="0.6" />
<line x1="474.80" y1="234.00" x2="476.80" y2="234.00" stroke="#f7a21b" stroke-width="0.6" />
<circle cx="475.80" cy="231.50" r="1.6" fill="#f7a21b"/>
<line x1="478.00" y1="226.60" x2="478.00" y2="231.60" stroke="#f7a21b" stroke-width="0.7" />
<line x1="477.00" y1="226.60" x2="479.00" y2="226.60" stroke="#f7a21b" stroke-width="0.6" />
<line x1="477.00" y1="231.60" x2="479.00" y2="231.60" stroke="#f7a21b" stroke-width="0.6" />
<circle cx="478.00" cy="229.10" r="1.6" fill="#f7a21b"/>
<line x1="480.20" y1="224.00" x2="480.20" y2="228.00" stroke="#f7a21b" stroke-width="0.7" />
<line x1="479.20" y1="224.00" x2="481.20" y2="224.00" stroke="#f7a21b" stroke-width="0.6" />
<line x1="479.20" y1="228.00" x2="481.20" y2="228.00" stroke="#f7a21b" stroke-width="0.6" />
<circle cx="480.20" cy="226.00" r="1.6" fill="#f7a21b"/>
<line x1="482.00" y1="221.30" x2="482.00" y2="225.30" stroke="#f7a21b" stroke-width="0.7" />
<line x1="481.00" y1="221.30" x2="483.00" y2="221.30" stroke="#f7a21b" stroke-width="0.6" />
<line x1="481.00" y1="225.30" x2="483.00" y2="225.30" stroke="#f7a21b" stroke-width="0.6" />
<circle cx="482.00" cy="223.30" r="1.6" fill="#f7a21b"/>
<line x1="483.50" y1="219.60" x2="483.50" y2="222.60" stroke="#f7a21b" stroke-width="0.7" />
<line x1="482.50" y1="219.60" x2="484.50" y2="219.60" stroke="#f7a21b" stroke-width="0.6" />
<line x1="482.50" y1="222.60" x2="484.50" y2="222.60" stroke="#f7a21b" stroke-width="0.6" />
<circle cx="483.50" cy="221.10" r="1.6" fill="#f7a21b"/>
<line x1="485.30" y1="217.20" x2="485.30" y2="219.20" stroke="#f7a21b" stroke-width="0.7" />
<line x1="484.30" y1="217.20" x2="486.30" y2="217.20" stroke="#f7a21b" stroke-width="0.6" />
<line x1="484.30" y1="219.20" x2="486.30" y2="219.20" stroke="#f7a21b" stroke-width="0.6" />
<circle cx="485.30" cy="218.20" r="1.6" fill="#f7a21b"/>
<circle cx="487.20" cy="217.80" r="1.6" fill="#f7a21b"/>
<circle cx="489.00" cy="218.20" r="1.6" fill="#f7a21b"/>
<circle cx="490.80" cy="218.20" r="1.6" fill="#f7a21b"/>
<polyline points="367.10,263.80 374.40,263.80 381.40,263.80 388.70,263.80 395.90,263.80 403.30,264.00 410.50,264.40 417.80,265.20 425.50,266.50 432.60,266.50 439.80,269.30 447.30,274.90 454.50,281.60 461.80,284.00 469.20,290.40 473.90,294.10 475.90,295.10 478.60,298.50 480.30,300.50 482.00,303.10 484.00,305.60 485.70,309.30 487.40,309.30 489.10,309.30 491.60,309.30" fill="none" stroke="#3a62dc" stroke-width="0.9" stroke-linejoin="round" stroke-linecap="round" />
<rect x="365.60" y="262.30" width="3" height="3" fill="#3a62dc"/>
<rect x="372.90" y="262.30" width="3" height="3" fill="#3a62dc"/>
<line x1="381.40" y1="262.80" x2="381.40" y2="264.80" stroke="#3a62dc" stroke-width="0.7" />
<line x1="380.40" y1="262.80" x2="382.40" y2="262.80" stroke="#3a62dc" stroke-width="0.6" />
<line x1="380.40" y1="264.80" x2="382.40" y2="264.80" stroke="#3a62dc" stroke-width="0.6" />
<rect x="379.90" y="262.30" width="3" height="3" fill="#3a62dc"/>
<rect x="387.20" y="262.30" width="3" height="3" fill="#3a62dc"/>
<line x1="395.90" y1="260.80" x2="395.90" y2="266.80" stroke="#3a62dc" stroke-width="0.7" />
<line x1="394.90" y1="260.80" x2="396.90" y2="260.80" stroke="#3a62dc" stroke-width="0.6" />
<line x1="394.90" y1="266.80" x2="396.90" y2="266.80" stroke="#3a62dc" stroke-width="0.6" />
<rect x="394.40" y="262.30" width="3" height="3" fill="#3a62dc"/>
<line x1="403.30" y1="261.50" x2="403.30" y2="266.50" stroke="#3a62dc" stroke-width="0.7" />
<line x1="402.30" y1="261.50" x2="404.30" y2="261.50" stroke="#3a62dc" stroke-width="0.6" />
<line x1="402.30" y1="266.50" x2="404.30" y2="266.50" stroke="#3a62dc" stroke-width="0.6" />
<rect x="401.80" y="262.50" width="3" height="3" fill="#3a62dc"/>
<line x1="410.50" y1="261.90" x2="410.50" y2="266.90" stroke="#3a62dc" stroke-width="0.7" />
<line x1="409.50" y1="261.90" x2="411.50" y2="261.90" stroke="#3a62dc" stroke-width="0.6" />
<line x1="409.50" y1="266.90" x2="411.50" y2="266.90" stroke="#3a62dc" stroke-width="0.6" />
<rect x="409.00" y="262.90" width="3" height="3" fill="#3a62dc"/>
<line x1="417.80" y1="262.20" x2="417.80" y2="268.20" stroke="#3a62dc" stroke-width="0.7" />
<line x1="416.80" y1="262.20" x2="418.80" y2="262.20" stroke="#3a62dc" stroke-width="0.6" />
<line x1="416.80" y1="268.20" x2="418.80" y2="268.20" stroke="#3a62dc" stroke-width="0.6" />
<rect x="416.30" y="263.70" width="3" height="3" fill="#3a62dc"/>
<line x1="425.50" y1="263.00" x2="425.50" y2="270.00" stroke="#3a62dc" stroke-width="0.7" />
<line x1="424.50" y1="263.00" x2="426.50" y2="263.00" stroke="#3a62dc" stroke-width="0.6" />
<line x1="424.50" y1="270.00" x2="426.50" y2="270.00" stroke="#3a62dc" stroke-width="0.6" />
<rect x="424.00" y="265.00" width="3" height="3" fill="#3a62dc"/>
<line x1="432.60" y1="263.00" x2="432.60" y2="270.00" stroke="#3a62dc" stroke-width="0.7" />
<line x1="431.60" y1="263.00" x2="433.60" y2="263.00" stroke="#3a62dc" stroke-width="0.6" />
<line x1="431.60" y1="270.00" x2="433.60" y2="270.00" stroke="#3a62dc" stroke-width="0.6" />
<rect x="431.10" y="265.00" width="3" height="3" fill="#3a62dc"/>
<line x1="439.80" y1="265.80" x2="439.80" y2="272.80" stroke="#3a62dc" stroke-width="0.7" />
<line x1="438.80" y1="265.80" x2="440.80" y2="265.80" stroke="#3a62dc" stroke-width="0.6" />
<line x1="438.80" y1="272.80" x2="440.80" y2="272.80" stroke="#3a62dc" stroke-width="0.6" />
<rect x="438.30" y="267.80" width="3" height="3" fill="#3a62dc"/>
<line x1="447.30" y1="270.90" x2="447.30" y2="278.90" stroke="#3a62dc" stroke-width="0.7" />
<line x1="446.30" y1="270.90" x2="448.30" y2="270.90" stroke="#3a62dc" stroke-width="0.6" />
<line x1="446.30" y1="278.90" x2="448.30" y2="278.90" stroke="#3a62dc" stroke-width="0.6" />
<rect x="445.80" y="273.40" width="3" height="3" fill="#3a62dc"/>
<line x1="454.50" y1="277.60" x2="454.50" y2="285.60" stroke="#3a62dc" stroke-width="0.7" />
<line x1="453.50" y1="277.60" x2="455.50" y2="277.60" stroke="#3a62dc" stroke-width="0.6" />
<line x1="453.50" y1="285.60" x2="455.50" y2="285.60" stroke="#3a62dc" stroke-width="0.6" />
<rect x="453.00" y="280.10" width="3" height="3" fill="#3a62dc"/>
<line x1="461.80" y1="280.00" x2="461.80" y2="288.00" stroke="#3a62dc" stroke-width="0.7" />
<line x1="460.80" y1="280.00" x2="462.80" y2="280.00" stroke="#3a62dc" stroke-width="0.6" />
<line x1="460.80" y1="288.00" x2="462.80" y2="288.00" stroke="#3a62dc" stroke-width="0.6" />
<rect x="460.30" y="282.50" width="3" height="3" fill="#3a62dc"/>
<line x1="469.20" y1="286.40" x2="469.20" y2="294.40" stroke="#3a62dc" stroke-width="0.7" />
<line x1="468.20" y1="286.40" x2="470.20" y2="286.40" stroke="#3a62dc" stroke-width="0.6" />
<line x1="468.20" y1="294.40" x2="470.20" y2="294.40" stroke="#3a62dc" stroke-width="0.6" />
<rect x="467.70" y="288.90" width="3" height="3" fill="#3a62dc"/>
<line x1="473.90" y1="291.10" x2="473.90" y2="297.10" stroke="#3a62dc" stroke-width="0.7" />
<line x1="472.90" y1="291.10" x2="474.90" y2="291.10" stroke="#3a62dc" stroke-width="0.6" />
<line x1="472.90" y1="297.10" x2="474.90" y2="297.10" stroke="#3a62dc" stroke-width="0.6" />
<rect x="472.40" y="292.60" width="3" height="3" fill="#3a62dc"/>
<line x1="475.90" y1="292.60" x2="475.90" y2="297.60" stroke="#3a62dc" stroke-width="0.7" />
<line x1="474.90" y1="292.60" x2="476.90" y2="292.60" stroke="#3a62dc" stroke-width="0.6" />
<line x1="474.90" y1="297.60" x2="476.90" y2="297.60" stroke="#3a62dc" stroke-width="0.6" />
<rect x="474.40" y="293.60" width="3" height="3" fill="#3a62dc"/>
<line x1="478.60" y1="296.00" x2="478.60" y2="301.00" stroke="#3a62dc" stroke-width="0.7" />
<line x1="477.60" y1="296.00" x2="479.60" y2="296.00" stroke="#3a62dc" stroke-width="0.6" />
<line x1="477.60" y1="301.00" x2="479.60" y2="301.00" stroke="#3a62dc" stroke-width="0.6" />
<rect x="477.10" y="297.00" width="3" height="3" fill="#3a62dc"/>
<line x1="480.30" y1="298.50" x2="480.30" y2="302.50" stroke="#3a62dc" stroke-width="0.7" />
<line x1="479.30" y1="298.50" x2="481.30" y2="298.50" stroke="#3a62dc" stroke-width="0.6" />
<line x1="479.30" y1="302.50" x2="481.30" y2="302.50" stroke="#3a62dc" stroke-width="0.6" />
<rect x="478.80" y="299.00" width="3" height="3" fill="#3a62dc"/>
<line x1="482.00" y1="301.10" x2="482.00" y2="305.10" stroke="#3a62dc" stroke-width="0.7" />
<line x1="481.00" y1="301.10" x2="483.00" y2="301.10" stroke="#3a62dc" stroke-width="0.6" />
<line x1="481.00" y1="305.10" x2="483.00" y2="305.10" stroke="#3a62dc" stroke-width="0.6" />
<rect x="480.50" y="301.60" width="3" height="3" fill="#3a62dc"/>
<line x1="484.00" y1="304.10" x2="484.00" y2="307.10" stroke="#3a62dc" stroke-width="0.7" />
<line x1="483.00" y1="304.10" x2="485.00" y2="304.10" stroke="#3a62dc" stroke-width="0.6" />
<line x1="483.00" y1="307.10" x2="485.00" y2="307.10" stroke="#3a62dc" stroke-width="0.6" />
<rect x="482.50" y="304.10" width="3" height="3" fill="#3a62dc"/>
<line x1="485.70" y1="308.30" x2="485.70" y2="310.30" stroke="#3a62dc" stroke-width="0.7" />
<line x1="484.70" y1="308.30" x2="486.70" y2="308.30" stroke="#3a62dc" stroke-width="0.6" />
<line x1="484.70" y1="310.30" x2="486.70" y2="310.30" stroke="#3a62dc" stroke-width="0.6" />
<rect x="484.20" y="307.80" width="3" height="3" fill="#3a62dc"/>
<rect x="485.90" y="307.80" width="3" height="3" fill="#3a62dc"/>
<rect x="487.60" y="307.80" width="3" height="3" fill="#3a62dc"/>
<rect x="490.10" y="307.80" width="3" height="3" fill="#3a62dc"/>
<line x1="399.10" y1="237.20" x2="413.80" y2="237.20" stroke="#f7a21b" stroke-width="1.0" />
<circle cx="406.4" cy="237.2" r="1.6" fill="#f7a21b"/>
<text x="417.30" y="240.30" font-size="8.8" text-anchor="start" font-weight="normal" fill="#141414" >p</text>
<line x1="399.10" y1="287.80" x2="414.00" y2="287.80" stroke="#3a62dc" stroke-width="1.0" />
<rect x="405.0" y="286.3" width="3" height="3" fill="#3a62dc"/>
<text x="418.00" y="290.80" font-size="8.5" text-anchor="start" font-weight="normal" fill="#141414" >ap</text>
<rect x="364.60" y="199.40" width="130.70" height="128.50" fill="none" stroke="#626262" stroke-width="1.0" />
<line x1="545.70" y1="29.25" x2="545.70" y2="306.30" stroke="#8e8e8e" stroke-width="0.75" stroke-dasharray="1.2 0.9"/>
<line x1="577.40" y1="29.25" x2="577.40" y2="306.30" stroke="#8e8e8e" stroke-width="0.75" stroke-dasharray="1.2 0.9"/>
<line x1="609.10" y1="29.25" x2="609.10" y2="306.30" stroke="#8e8e8e" stroke-width="0.75" stroke-dasharray="1.2 0.9"/>
<line x1="640.80" y1="29.25" x2="640.80" y2="306.30" stroke="#8e8e8e" stroke-width="0.75" stroke-dasharray="1.2 0.9"/>
<line x1="672.50" y1="29.25" x2="672.50" y2="306.30" stroke="#8e8e8e" stroke-width="0.75" stroke-dasharray="1.2 0.9"/>
<line x1="533.30" y1="287.30" x2="684.60" y2="287.30" stroke="#8e8e8e" stroke-width="0.75" stroke-dasharray="1.2 0.9"/>
<line x1="533.30" y1="287.30" x2="535.80" y2="287.30" stroke="#626262" stroke-width="0.7" />
<line x1="684.60" y1="287.30" x2="682.10" y2="287.30" stroke="#626262" stroke-width="0.7" />
<line x1="533.30" y1="255.85" x2="534.80" y2="255.85" stroke="#626262" stroke-width="0.7" />
<line x1="684.60" y1="255.85" x2="683.10" y2="255.85" stroke="#626262" stroke-width="0.7" />
<line x1="533.30" y1="224.40" x2="535.80" y2="224.40" stroke="#626262" stroke-width="0.7" />
<line x1="684.60" y1="224.40" x2="682.10" y2="224.40" stroke="#626262" stroke-width="0.7" />
<line x1="533.30" y1="192.95" x2="534.80" y2="192.95" stroke="#626262" stroke-width="0.7" />
<line x1="684.60" y1="192.95" x2="683.10" y2="192.95" stroke="#626262" stroke-width="0.7" />
<line x1="533.30" y1="161.50" x2="535.80" y2="161.50" stroke="#626262" stroke-width="0.7" />
<line x1="684.60" y1="161.50" x2="682.10" y2="161.50" stroke="#626262" stroke-width="0.7" />
<line x1="533.30" y1="130.05" x2="534.80" y2="130.05" stroke="#626262" stroke-width="0.7" />
<line x1="684.60" y1="130.05" x2="683.10" y2="130.05" stroke="#626262" stroke-width="0.7" />
<line x1="533.30" y1="98.60" x2="535.80" y2="98.60" stroke="#626262" stroke-width="0.7" />
<line x1="684.60" y1="98.60" x2="682.10" y2="98.60" stroke="#626262" stroke-width="0.7" />
<line x1="533.30" y1="67.15" x2="534.80" y2="67.15" stroke="#626262" stroke-width="0.7" />
<line x1="684.60" y1="67.15" x2="683.10" y2="67.15" stroke="#626262" stroke-width="0.7" />
<line x1="533.30" y1="35.70" x2="535.80" y2="35.70" stroke="#626262" stroke-width="0.7" />
<line x1="684.60" y1="35.70" x2="682.10" y2="35.70" stroke="#626262" stroke-width="0.7" />
<line x1="545.70" y1="306.30" x2="545.70" y2="303.80" stroke="#626262" stroke-width="0.7" />
<line x1="545.70" y1="29.25" x2="545.70" y2="31.75" stroke="#626262" stroke-width="0.7" />
<line x1="561.55" y1="306.30" x2="561.55" y2="304.80" stroke="#626262" stroke-width="0.7" />
<line x1="561.55" y1="29.25" x2="561.55" y2="30.75" stroke="#626262" stroke-width="0.7" />
<line x1="577.40" y1="306.30" x2="577.40" y2="303.80" stroke="#626262" stroke-width="0.7" />
<line x1="577.40" y1="29.25" x2="577.40" y2="31.75" stroke="#626262" stroke-width="0.7" />
<line x1="593.25" y1="306.30" x2="593.25" y2="304.80" stroke="#626262" stroke-width="0.7" />
<line x1="593.25" y1="29.25" x2="593.25" y2="30.75" stroke="#626262" stroke-width="0.7" />
<line x1="609.10" y1="306.30" x2="609.10" y2="303.80" stroke="#626262" stroke-width="0.7" />
<line x1="609.10" y1="29.25" x2="609.10" y2="31.75" stroke="#626262" stroke-width="0.7" />
<line x1="624.95" y1="306.30" x2="624.95" y2="304.80" stroke="#626262" stroke-width="0.7" />
<line x1="624.95" y1="29.25" x2="624.95" y2="30.75" stroke="#626262" stroke-width="0.7" />
<line x1="640.80" y1="306.30" x2="640.80" y2="303.80" stroke="#626262" stroke-width="0.7" />
<line x1="640.80" y1="29.25" x2="640.80" y2="31.75" stroke="#626262" stroke-width="0.7" />
<line x1="656.65" y1="306.30" x2="656.65" y2="304.80" stroke="#626262" stroke-width="0.7" />
<line x1="656.65" y1="29.25" x2="656.65" y2="30.75" stroke="#626262" stroke-width="0.7" />
<line x1="672.50" y1="306.30" x2="672.50" y2="303.80" stroke="#626262" stroke-width="0.7" />
<line x1="672.50" y1="29.25" x2="672.50" y2="31.75" stroke="#626262" stroke-width="0.7" />
<text transform="translate(531.20,290.60) scale(1.07,1)" x="0" y="0" font-size="9.2" text-anchor="end" fill="#141414">0</text>
<text transform="translate(531.20,227.70) scale(1.07,1)" x="0" y="0" font-size="9.2" text-anchor="end" fill="#141414">1</text>
<text transform="translate(531.20,164.80) scale(1.07,1)" x="0" y="0" font-size="9.2" text-anchor="end" fill="#141414">2</text>
<text transform="translate(531.20,101.90) scale(1.07,1)" x="0" y="0" font-size="9.2" text-anchor="end" fill="#141414">3</text>
<text transform="translate(531.20,39.00) scale(1.07,1)" x="0" y="0" font-size="9.2" text-anchor="end" fill="#141414">4</text>
<text transform="translate(545.70,316.20) scale(1.07,1)" x="0" y="0" font-size="9.2" text-anchor="middle" fill="#141414">−1.0</text>
<text transform="translate(577.40,316.20) scale(1.07,1)" x="0" y="0" font-size="9.2" text-anchor="middle" fill="#141414">−0.5</text>
<text transform="translate(609.10,316.20) scale(1.07,1)" x="0" y="0" font-size="9.2" text-anchor="middle" fill="#141414">0.0</text>
<text transform="translate(640.80,316.20) scale(1.07,1)" x="0" y="0" font-size="9.2" text-anchor="middle" fill="#141414">0.5</text>
<text transform="translate(672.50,316.20) scale(1.07,1)" x="0" y="0" font-size="9.2" text-anchor="middle" fill="#141414">1.0</text>
<text transform="translate(518.80,167.50) rotate(-90)" x="0" y="0" font-size="10.5" text-anchor="middle" fill="#141414" textLength="44.6" lengthAdjust="spacingAndGlyphs"><tspan font-style="italic">σ</tspan><tspan font-size="7.5" dy="2.4" font-style="italic">xx</tspan><tspan dy="-2.4"> (e</tspan><tspan font-size="7" dy="-3.6">2</tspan><tspan dy="3.6">/</tspan><tspan font-style="italic">h</tspan>)</text>
<text x="586.30" y="332.00" font-size="10.5" text-anchor="start" fill="#141414" textLength="44.2" lengthAdjust="spacingAndGlyphs"><tspan font-style="italic">σ</tspan><tspan font-size="7.5" dy="2.4" font-style="italic">xy</tspan><tspan dy="-2.4" font-style="italic"> (e</tspan><tspan font-size="7" dy="-3.6" font-style="italic">2</tspan><tspan dy="3.6" font-style="italic">/h)</tspan></text>
<path d="M545.70,287.30 A31.7,31.45 0 0 1 609.10,287.30 A31.7,31.45 0 0 1 672.50,287.30" fill="none" stroke="#9a9a9a" stroke-width="0.8" stroke-dasharray="1 1.3"/>
<polyline points="545.3,287.3 552,250 559.1,218.9 565,185 569.5,153.9 573,110 576,75 577.4,42" fill="none" stroke="#c874df" stroke-width="0.8" stroke-dasharray="3 2"/>
<path d="M640.50,42.00 C641.06,57.47 640.87,72.53 642.60,100.00 C644.33,127.47 644.73,123.67 647.00,145.00 C649.27,166.33 648.03,159.55 651.10,180.00 C654.17,200.45 655.19,206.77 658.50,221.70 C661.81,236.63 661.10,228.80 663.50,236.00 C665.90,243.20 665.37,239.93 667.50,248.70 C669.63,257.47 670.17,258.61 671.50,268.90 C672.83,279.19 672.23,282.39 672.50,287.30" fill="none" stroke="#c874df" stroke-width="0.8" stroke-dasharray="3 2"/>
<polyline points="609.2,287.3 621,239.7 631.4,220 641.7,185" fill="none" stroke="#c874df" stroke-width="0.8" stroke-dasharray="3 2"/>
<path d="M577.50,74.00 C578.45,59.44 591.36,48.00 609.00,48.00 C626.81,48.00 639.85,59.44 640.80,74.00" fill="none" stroke="#2a90e8" stroke-width="1.0"/>
<path d="M577.00,80.00 C577.95,64.60 590.86,52.50 608.50,52.50 C626.70,52.50 640.02,64.60 641.00,80.00" fill="none" stroke="#2a90e8" stroke-width="1.0"/>
<path d="M576.50,86.00 C577.45,70.38 590.36,58.10 608.00,58.10 C626.76,58.10 640.50,70.38 641.50,86.00" fill="none" stroke="#2a90e8" stroke-width="1.0"/>
<path d="M575.50,93.00 C576.45,77.21 589.36,64.80 607.00,64.80 C626.32,64.80 640.47,77.21 641.50,93.00" fill="none" stroke="#2a90e8" stroke-width="1.0"/>
<path d="M574.00,103.00 C574.96,87.26 588.08,74.90 606.00,74.90 C626.16,74.90 640.92,87.26 642.00,103.00" fill="none" stroke="#2a90e8" stroke-width="1.0"/>
<path d="M572.00,114.00 C572.99,99.05 586.52,87.30 605.00,87.30 C625.72,87.30 640.89,99.49 642.00,115.00" fill="none" stroke="#2a90e8" stroke-width="1.0"/>
<path d="M570.40,132.00 C571.39,117.05 584.96,105.30 603.50,105.30 C625.06,105.30 640.85,117.49 642.00,133.00" fill="none" stroke="#2a90e8" stroke-width="1.0"/>
<path d="M569.00,155.00 C569.99,139.60 583.52,127.50 602.00,127.50 C624.40,127.50 640.80,140.04 642.00,156.00" fill="none" stroke="#2a90e8" stroke-width="1.0"/>
<path d="M565.60,183.50 C566.64,166.70 580.91,153.50 600.40,153.50 C622.97,153.50 639.49,168.68 640.70,188.00" fill="none" stroke="#2a90e8" stroke-width="1.0"/>
<path d="M560.70,209.00 C561.81,193.99 576.94,182.20 597.60,182.20 C618.60,182.20 633.98,196.37 635.10,214.40" fill="none" stroke="#2a90e8" stroke-width="1.0"/>
<path d="M549.00,258.00 C550.16,230.78 566.07,209.40 587.80,209.40 C606.56,209.40 620.29,222.42 621.30,239.00" fill="none" stroke="#2a90e8" stroke-width="1.0"/>
<path d="M545.40,282.00 C546.36,254.17 559.48,232.30 577.40,232.30 C596.50,232.30 610.48,244.93 611.50,261.00" fill="none" stroke="#2a90e8" stroke-width="1.0"/>
<path d="M545.30,284.00 C546.26,261.15 559.42,243.20 577.40,243.20 C595.54,243.20 608.83,258.51 609.80,278.00" fill="none" stroke="#2a90e8" stroke-width="1.0"/>
<path d="M545.30,285.00 C546.26,263.44 559.42,246.50 577.40,246.50 C595.43,246.50 608.63,261.24 609.60,280.00" fill="none" stroke="#2a90e8" stroke-width="1.0"/>
<path d="M545.30,285.00 C546.26,263.89 559.42,247.30 577.40,247.30 C595.38,247.30 608.54,262.13 609.50,281.00" fill="none" stroke="#2a90e8" stroke-width="1.0"/>
<path d="M545.30,285.00 C546.26,264.50 559.42,248.40 577.40,248.40 C595.32,248.40 608.44,263.18 609.40,282.00" fill="none" stroke="#2a90e8" stroke-width="1.0"/>
<path d="M640.80,74.00 C640.91,75.33 640.88,76.73 641.20,79.00 C641.52,81.27 642.10,81.30 642.00,82.50 C641.90,83.70 640.98,82.57 640.82,83.50 C640.67,84.43 641.26,85.33 641.42,86.00" fill="none" stroke="#35d98f" stroke-width="0.8" stroke-linejoin="round" stroke-linecap="round" />
<line x1="641.82" y1="75.00" x2="641.82" y2="83.00" stroke="#ee3b3b" stroke-width="0.8" />
<path d="M641.00,80.00 C641.11,81.33 641.08,82.73 641.40,85.00 C641.72,87.27 642.30,87.30 642.20,88.50 C642.10,89.70 641.19,88.57 641.04,89.50 C640.89,90.43 641.48,91.33 641.64,92.00" fill="none" stroke="#35d98f" stroke-width="0.8" stroke-linejoin="round" stroke-linecap="round" />
<line x1="642.04" y1="81.00" x2="642.04" y2="89.00" stroke="#ee3b3b" stroke-width="0.8" />
<path d="M641.50,86.00 C641.61,87.33 641.58,88.73 641.90,91.00 C642.22,93.27 642.87,93.30 642.70,94.50 C642.53,95.70 641.48,94.57 641.26,95.50 C641.03,96.43 641.70,97.33 641.86,98.00" fill="none" stroke="#35d98f" stroke-width="0.8" stroke-linejoin="round" stroke-linecap="round" />
<line x1="642.26" y1="87.00" x2="642.26" y2="95.00" stroke="#ee3b3b" stroke-width="0.8" />
<path d="M641.50,93.00 C641.61,94.33 641.58,95.73 641.90,98.00 C642.22,100.27 642.76,100.30 642.70,101.50 C642.64,102.70 641.80,101.57 641.69,102.50 C641.58,103.43 642.13,104.33 642.29,105.00" fill="none" stroke="#35d98f" stroke-width="0.8" stroke-linejoin="round" stroke-linecap="round" />
<line x1="642.69" y1="94.00" x2="642.69" y2="102.00" stroke="#ee3b3b" stroke-width="0.8" />
<path d="M642.00,103.00 C642.11,104.33 642.08,105.73 642.40,108.00 C642.72,110.27 643.13,110.30 643.20,111.50 C643.27,112.70 642.65,111.57 642.67,112.50 C642.69,113.43 643.11,114.33 643.27,115.00" fill="none" stroke="#35d98f" stroke-width="0.8" stroke-linejoin="round" stroke-linecap="round" />
<line x1="643.67" y1="104.00" x2="643.67" y2="112.00" stroke="#ee3b3b" stroke-width="0.8" />
<path d="M642.00,115.00 C642.11,116.33 642.08,117.73 642.40,120.00 C642.72,122.27 642.81,122.30 643.20,123.50 C643.59,124.70 643.51,123.57 643.84,124.50 C644.18,125.43 644.28,126.33 644.44,127.00" fill="none" stroke="#35d98f" stroke-width="0.8" stroke-linejoin="round" stroke-linecap="round" />
<line x1="644.84" y1="116.00" x2="644.84" y2="124.00" stroke="#ee3b3b" stroke-width="0.8" />
<path d="M642.00,133.00 C642.11,134.33 642.08,135.73 642.40,138.00 C642.72,140.27 642.35,140.30 643.20,141.50 C644.05,142.70 644.80,141.57 645.60,142.50 C646.41,143.43 646.04,144.33 646.20,145.00" fill="none" stroke="#35d98f" stroke-width="0.8" stroke-linejoin="round" stroke-linecap="round" />
<line x1="646.60" y1="134.00" x2="646.60" y2="142.00" stroke="#ee3b3b" stroke-width="0.8" />
<path d="M642.00,156.00 C642.11,157.33 642.08,158.73 642.40,161.00 C642.72,163.27 641.64,163.30 643.20,164.50 C644.76,165.70 646.75,164.57 648.26,165.50 C649.77,166.43 648.70,167.33 648.86,168.00" fill="none" stroke="#35d98f" stroke-width="0.8" stroke-linejoin="round" stroke-linecap="round" />
<line x1="649.26" y1="157.00" x2="649.26" y2="165.00" stroke="#ee3b3b" stroke-width="0.8" />
<path d="M609.60,281.00 C610.56,259.50 623.64,242.60 641.50,242.60 C658.69,242.60 671.28,260.38 672.20,283.00" fill="none" stroke="#2ee08e" stroke-width="0.9"/>
<path d="M609.60,281.00 C610.56,260.67 623.64,244.70 641.50,244.70 C658.69,244.70 671.28,261.55 672.20,283.00" fill="none" stroke="#2ee08e" stroke-width="0.9"/>
<path d="M609.60,281.00 C610.56,261.79 623.64,246.70 641.50,246.70 C658.69,246.70 671.28,262.67 672.20,283.00" fill="none" stroke="#2ee08e" stroke-width="0.9"/>
<path d="M609.60,281.00 C610.56,262.74 623.64,248.40 641.50,248.40 C658.69,248.40 671.28,263.62 672.20,283.00" fill="none" stroke="#2ee08e" stroke-width="0.9"/>
<path d="M609.60,281.00 C610.56,263.75 623.64,250.20 641.50,250.20 C658.69,250.20 671.28,264.63 672.20,283.00" fill="none" stroke="#2ee08e" stroke-width="0.9"/>
<path d="M621.30,239.00 C622.39,239.11 622.55,239.83 625.40,239.40 C628.25,238.97 627.97,238.15 632.00,237.40 C636.03,236.65 635.17,235.91 640.50,236.60 C645.83,237.29 646.80,237.76 652.00,240.00 C657.20,242.24 656.27,241.80 660.00,245.00 C663.73,248.20 663.33,247.47 666.00,252.00 C668.67,256.53 668.40,254.00 670.00,262.00 C671.60,270.00 671.47,276.67 672.00,282.00" fill="none" stroke="#2ee08e" stroke-width="0.9" stroke-linejoin="round" stroke-linecap="round" />
<path d="M635.10,214.40 C635.74,215.55 634.78,216.94 637.50,218.70 C640.22,220.46 641.43,220.07 645.30,221.00 C649.17,221.93 649.28,221.45 652.00,222.20 C654.72,222.95 653.98,222.12 655.50,223.80 C657.02,225.48 657.11,227.25 657.70,228.50" fill="none" stroke="#2ee08e" stroke-width="0.9" stroke-linejoin="round" stroke-linecap="round" />
<path d="M640.70,188.00 C641.07,189.44 640.93,191.11 642.10,193.40 C643.27,195.69 643.26,195.80 645.10,196.60 C646.94,197.40 647.43,196.51 649.00,196.40 C650.57,196.29 650.33,195.27 651.00,196.20 C651.67,197.13 651.37,198.91 651.50,199.90" fill="none" stroke="#2ee08e" stroke-width="0.9" stroke-linejoin="round" stroke-linecap="round" />
<line x1="652.00" y1="183.40" x2="652.00" y2="193.50" stroke="#ee3b3b" stroke-width="0.9" />
<line x1="657.70" y1="215.40" x2="657.70" y2="223.00" stroke="#ee3b3b" stroke-width="0.9" />
<line x1="667.50" y1="247.60" x2="667.50" y2="256.60" stroke="#ee3b3b" stroke-width="0.9" />
<line x1="672.00" y1="279.00" x2="672.00" y2="287.00" stroke="#ee3b3b" stroke-width="0.9" />
<circle cx="545.70" cy="287.30" r="1.7" fill="#999"/>
<circle cx="609.10" cy="287.30" r="1.7" fill="#999"/>
<circle cx="672.50" cy="287.30" r="1.7" fill="#999"/>
<text x="624.00" y="48.30" font-size="9.4" text-anchor="middle" font-weight="normal" fill="#141414" >-200 V</text>
<text x="615.10" y="169.60" font-size="8.6" text-anchor="start" font-weight="normal" fill="#141414" textLength="12.4" lengthAdjust="spacing">0 V</text>
<text x="626.20" y="274.40" font-size="8.6" text-anchor="middle" font-weight="normal" fill="#141414" >150 V</text>
<rect x="533.30" y="29.25" width="151.30" height="277.05" fill="none" stroke="#626262" stroke-width="1.0" />
</svg>
</body></html>
